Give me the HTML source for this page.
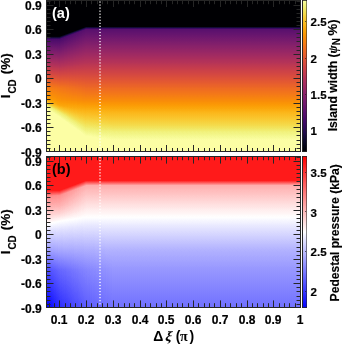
<!DOCTYPE html>
<html><head><meta charset="utf-8"><style>
html,body{margin:0;padding:0}
body{width:342px;height:344px;background:#fff;overflow:hidden;position:relative}
svg{position:absolute;left:0;top:0}
.tx{will-change:transform}
</style></head><body>
<svg width="342" height="344" style="position:absolute;left:0;top:0" shape-rendering="crispEdges"><defs><filter id="fa" x="0" y="0" width="1" height="1" filterUnits="objectBoundingBox" color-interpolation-filters="sRGB"><feComponentTransfer><feFuncR type="table" tableValues="0.0015 0.0033 0.0060 0.0096 0.0140 0.0194 0.0258 0.0334 0.0423 0.0516 0.0613 0.0714 0.0820 0.0930 0.1046 0.1167 0.1293 0.1424 0.1558 0.1696 0.1834 0.1973 0.2111 0.2248 0.2383 0.2516 0.2648 0.2778 0.2908 0.3036 0.3163 0.3289 0.3415 0.3540 0.3665 0.3790 0.3915 0.4039 0.4163 0.4288 0.4412 0.4537 0.4661 0.4786 0.4910 0.5035 0.5160 0.5284 0.5409 0.5534 0.5659 0.5783 0.5907 0.6031 0.6155 0.6278 0.6401 0.6524 0.6645 0.6766 0.6887 0.7006 0.7124 0.7241 0.7414 0.7528 0.7640 0.7751 0.7859 0.7966 0.8071 0.8173 0.8274 0.8372 0.8467 0.8560 0.8650 0.8737 0.8822 0.8903 0.8982 0.9057 0.9130 0.9199 0.9265 0.9327 0.9387 0.9443 0.9496 0.9545 0.9591 0.9634 0.9673 0.9709 0.9742 0.9771 0.9797 0.9819 0.9838 0.9853 0.9865 0.9873 0.9878 0.9879 0.9877 0.9871 0.9862 0.9849 0.9832 0.9812 0.9788 0.9761 0.9731 0.9698 0.9662 0.9625 0.9587 0.9550 0.9515 0.9487 0.9468 0.9464 0.9479 0.9517 0.9579 0.9662 0.9765 0.9884"/><feFuncG type="table" tableValues="0.0005 0.0022 0.0047 0.0077 0.0112 0.0151 0.0193 0.0237 0.0281 0.0325 0.0366 0.0403 0.0433 0.0456 0.0470 0.0476 0.0473 0.0462 0.0446 0.0425 0.0403 0.0384 0.0370 0.0364 0.0366 0.0377 0.0396 0.0424 0.0456 0.0494 0.0535 0.0578 0.0623 0.0669 0.0716 0.0763 0.0809 0.0856 0.0902 0.0948 0.0993 0.1038 0.1083 0.1128 0.1172 0.1216 0.1260 0.1303 0.1347 0.1391 0.1436 0.1480 0.1526 0.1572 0.1618 0.1666 0.1714 0.1764 0.1815 0.1868 0.1922 0.1979 0.2037 0.2097 0.2191 0.2257 0.2326 0.2397 0.2471 0.2547 0.2627 0.2710 0.2795 0.2884 0.2976 0.3070 0.3168 0.3269 0.3373 0.3480 0.3589 0.3701 0.3816 0.3934 0.4054 0.4176 0.4301 0.4428 0.4557 0.4687 0.4820 0.4955 0.5091 0.5229 0.5368 0.5508 0.5651 0.5794 0.5938 0.6084 0.6231 0.6379 0.6528 0.6677 0.6828 0.6979 0.7132 0.7284 0.7438 0.7591 0.7745 0.7900 0.8054 0.8208 0.8362 0.8515 0.8666 0.8816 0.8962 0.9105 0.9242 0.9372 0.9493 0.9606 0.9710 0.9807 0.9898 0.9984"/><feFuncB type="table" tableValues="0.0139 0.0242 0.0386 0.0551 0.0719 0.0888 0.1059 0.1234 0.1411 0.1593 0.1776 0.1964 0.2153 0.2344 0.2534 0.2723 0.2908 0.3086 0.3253 0.3409 0.3550 0.3675 0.3786 0.3881 0.3964 0.4034 0.4093 0.4144 0.4186 0.4222 0.4251 0.4275 0.4294 0.4309 0.4320 0.4327 0.4331 0.4332 0.4329 0.4324 0.4316 0.4305 0.4291 0.4275 0.4256 0.4234 0.4209 0.4181 0.4151 0.4118 0.4083 0.4044 0.4003 0.3959 0.3912 0.3863 0.3811 0.3756 0.3698 0.3638 0.3576 0.3511 0.3444 0.3374 0.3266 0.3191 0.3114 0.3035 0.2955 0.2873 0.2789 0.2704 0.2617 0.2530 0.2441 0.2351 0.2261 0.2169 0.2076 0.1983 0.1889 0.1794 0.1698 0.1601 0.1503 0.1404 0.1304 0.1204 0.1102 0.0999 0.0895 0.0791 0.0687 0.0584 0.0484 0.0391 0.0314 0.0262 0.0238 0.0242 0.0278 0.0349 0.0456 0.0583 0.0725 0.0877 0.1039 0.1208 0.1385 0.1569 0.1760 0.1960 0.2169 0.2387 0.2615 0.2855 0.3108 0.3375 0.3656 0.3953 0.4264 0.4586 0.4914 0.5242 0.5563 0.5872 0.6168 0.6449"/></feComponentTransfer></filter><filter id="fb" x="0" y="0" width="1" height="1" filterUnits="objectBoundingBox" color-interpolation-filters="sRGB"><feComponentTransfer><feFuncR type="table" tableValues="0.0000 1.0000 1.0000"/><feFuncG type="table" tableValues="0.0000 1.0000 0.0000"/><feFuncB type="table" tableValues="1.0000 1.0000 0.0000"/></feComponentTransfer></filter><linearGradient id="ga0" gradientUnits="userSpaceOnUse" x1="0" y1="0" x2="0" y2="152"><stop offset="0.0000" stop-color="#000000"/><stop offset="0.2388" stop-color="#000000"/><stop offset="0.2586" stop-color="#383838"/><stop offset="0.5789" stop-color="#b7b7b7"/><stop offset="0.6326" stop-color="#c4c4c4"/><stop offset="0.6591" stop-color="#cecece"/><stop offset="0.6759" stop-color="#e0e0e0"/><stop offset="0.6893" stop-color="#f2f2f2"/><stop offset="0.7096" stop-color="#ffffff"/></linearGradient><linearGradient id="ga1" gradientUnits="userSpaceOnUse" x1="0" y1="0" x2="0" y2="152"><stop offset="0.0000" stop-color="#000000"/><stop offset="0.2388" stop-color="#000000"/><stop offset="0.2586" stop-color="#383838"/><stop offset="0.5789" stop-color="#b7b7b7"/><stop offset="0.6345" stop-color="#c4c4c4"/><stop offset="0.6616" stop-color="#cecece"/><stop offset="0.6791" stop-color="#e0e0e0"/><stop offset="0.6930" stop-color="#f2f2f2"/><stop offset="0.7142" stop-color="#ffffff"/></linearGradient><linearGradient id="ga2" gradientUnits="userSpaceOnUse" x1="0" y1="0" x2="0" y2="152"><stop offset="0.0000" stop-color="#000000"/><stop offset="0.2388" stop-color="#000000"/><stop offset="0.2586" stop-color="#383838"/><stop offset="0.5789" stop-color="#b7b7b7"/><stop offset="0.6365" stop-color="#c4c4c4"/><stop offset="0.6640" stop-color="#cecece"/><stop offset="0.6823" stop-color="#e0e0e0"/><stop offset="0.6967" stop-color="#f2f2f2"/><stop offset="0.7189" stop-color="#ffffff"/></linearGradient><linearGradient id="ga3" gradientUnits="userSpaceOnUse" x1="0" y1="0" x2="0" y2="152"><stop offset="0.0000" stop-color="#000000"/><stop offset="0.2388" stop-color="#000000"/><stop offset="0.2586" stop-color="#383838"/><stop offset="0.5789" stop-color="#b6b6b6"/><stop offset="0.6385" stop-color="#c4c4c4"/><stop offset="0.6665" stop-color="#cecece"/><stop offset="0.6855" stop-color="#e0e0e0"/><stop offset="0.7004" stop-color="#f2f2f2"/><stop offset="0.7236" stop-color="#ffffff"/></linearGradient><linearGradient id="ga4" gradientUnits="userSpaceOnUse" x1="0" y1="0" x2="0" y2="152"><stop offset="0.0000" stop-color="#000000"/><stop offset="0.2388" stop-color="#000000"/><stop offset="0.2586" stop-color="#383838"/><stop offset="0.5789" stop-color="#b6b6b6"/><stop offset="0.6404" stop-color="#c3c3c3"/><stop offset="0.6689" stop-color="#cecece"/><stop offset="0.6887" stop-color="#e0e0e0"/><stop offset="0.7041" stop-color="#f2f2f2"/><stop offset="0.7282" stop-color="#ffffff"/></linearGradient><linearGradient id="ga5" gradientUnits="userSpaceOnUse" x1="0" y1="0" x2="0" y2="152"><stop offset="0.0000" stop-color="#000000"/><stop offset="0.2388" stop-color="#000000"/><stop offset="0.2586" stop-color="#383838"/><stop offset="0.5789" stop-color="#b6b6b6"/><stop offset="0.6424" stop-color="#c3c3c3"/><stop offset="0.6714" stop-color="#cecece"/><stop offset="0.6919" stop-color="#e0e0e0"/><stop offset="0.7078" stop-color="#f2f2f2"/><stop offset="0.7329" stop-color="#ffffff"/></linearGradient><linearGradient id="ga6" gradientUnits="userSpaceOnUse" x1="0" y1="0" x2="0" y2="152"><stop offset="0.0000" stop-color="#000000"/><stop offset="0.2388" stop-color="#000000"/><stop offset="0.2586" stop-color="#383838"/><stop offset="0.5789" stop-color="#b5b5b5"/><stop offset="0.6443" stop-color="#c3c3c3"/><stop offset="0.6739" stop-color="#cdcdcd"/><stop offset="0.6951" stop-color="#e0e0e0"/><stop offset="0.7114" stop-color="#f2f2f2"/><stop offset="0.7376" stop-color="#ffffff"/></linearGradient><linearGradient id="ga7" gradientUnits="userSpaceOnUse" x1="0" y1="0" x2="0" y2="152"><stop offset="0.0000" stop-color="#000000"/><stop offset="0.2388" stop-color="#000000"/><stop offset="0.2586" stop-color="#383838"/><stop offset="0.5789" stop-color="#b5b5b5"/><stop offset="0.6463" stop-color="#c3c3c3"/><stop offset="0.6763" stop-color="#cdcdcd"/><stop offset="0.6983" stop-color="#e0e0e0"/><stop offset="0.7151" stop-color="#f2f2f2"/><stop offset="0.7422" stop-color="#ffffff"/></linearGradient><linearGradient id="ga8" gradientUnits="userSpaceOnUse" x1="0" y1="0" x2="0" y2="152"><stop offset="0.0000" stop-color="#000000"/><stop offset="0.2388" stop-color="#000000"/><stop offset="0.2586" stop-color="#383838"/><stop offset="0.5789" stop-color="#b4b4b4"/><stop offset="0.6483" stop-color="#c3c3c3"/><stop offset="0.6788" stop-color="#cdcdcd"/><stop offset="0.7015" stop-color="#e0e0e0"/><stop offset="0.7188" stop-color="#f2f2f2"/><stop offset="0.7469" stop-color="#ffffff"/></linearGradient><linearGradient id="ga9" gradientUnits="userSpaceOnUse" x1="0" y1="0" x2="0" y2="152"><stop offset="0.0000" stop-color="#000000"/><stop offset="0.2388" stop-color="#000000"/><stop offset="0.2586" stop-color="#383838"/><stop offset="0.5789" stop-color="#b4b4b4"/><stop offset="0.6502" stop-color="#c3c3c3"/><stop offset="0.6812" stop-color="#cdcdcd"/><stop offset="0.7047" stop-color="#e0e0e0"/><stop offset="0.7225" stop-color="#f2f2f2"/><stop offset="0.7515" stop-color="#ffffff"/></linearGradient><linearGradient id="ga10" gradientUnits="userSpaceOnUse" x1="0" y1="0" x2="0" y2="152"><stop offset="0.0000" stop-color="#000000"/><stop offset="0.2388" stop-color="#000000"/><stop offset="0.2586" stop-color="#383838"/><stop offset="0.5789" stop-color="#b4b4b4"/><stop offset="0.6522" stop-color="#c2c2c2"/><stop offset="0.6837" stop-color="#cdcdcd"/><stop offset="0.7079" stop-color="#e0e0e0"/><stop offset="0.7262" stop-color="#f2f2f2"/><stop offset="0.7562" stop-color="#ffffff"/></linearGradient><linearGradient id="ga11" gradientUnits="userSpaceOnUse" x1="0" y1="0" x2="0" y2="152"><stop offset="0.0000" stop-color="#000000"/><stop offset="0.2388" stop-color="#000000"/><stop offset="0.2586" stop-color="#383838"/><stop offset="0.5789" stop-color="#b3b3b3"/><stop offset="0.6542" stop-color="#c2c2c2"/><stop offset="0.6861" stop-color="#cccccc"/><stop offset="0.7110" stop-color="#e0e0e0"/><stop offset="0.7298" stop-color="#f2f2f2"/><stop offset="0.7609" stop-color="#ffffff"/></linearGradient><linearGradient id="ga12" gradientUnits="userSpaceOnUse" x1="0" y1="0" x2="0" y2="152"><stop offset="0.0000" stop-color="#000000"/><stop offset="0.2388" stop-color="#000000"/><stop offset="0.2586" stop-color="#383838"/><stop offset="0.5789" stop-color="#b3b3b3"/><stop offset="0.6561" stop-color="#c2c2c2"/><stop offset="0.6886" stop-color="#cccccc"/><stop offset="0.7142" stop-color="#e0e0e0"/><stop offset="0.7335" stop-color="#f2f2f2"/><stop offset="0.7655" stop-color="#ffffff"/></linearGradient><linearGradient id="ga13" gradientUnits="userSpaceOnUse" x1="0" y1="0" x2="0" y2="152"><stop offset="0.0000" stop-color="#000000"/><stop offset="0.2386" stop-color="#000000"/><stop offset="0.2583" stop-color="#383838"/><stop offset="0.5789" stop-color="#b2b2b2"/><stop offset="0.6579" stop-color="#c2c2c2"/><stop offset="0.6909" stop-color="#cccccc"/><stop offset="0.7174" stop-color="#e0e0e0"/><stop offset="0.7373" stop-color="#f2f2f2"/><stop offset="0.7702" stop-color="#ffffff"/></linearGradient><linearGradient id="ga14" gradientUnits="userSpaceOnUse" x1="0" y1="0" x2="0" y2="152"><stop offset="0.0000" stop-color="#000000"/><stop offset="0.2362" stop-color="#000000"/><stop offset="0.2558" stop-color="#383838"/><stop offset="0.5789" stop-color="#b2b2b2"/><stop offset="0.6579" stop-color="#c2c2c2"/><stop offset="0.6924" stop-color="#cccccc"/><stop offset="0.7204" stop-color="#e1e1e1"/><stop offset="0.7414" stop-color="#f2f2f2"/><stop offset="0.7749" stop-color="#ffffff"/></linearGradient><linearGradient id="ga15" gradientUnits="userSpaceOnUse" x1="0" y1="0" x2="0" y2="152"><stop offset="0.0000" stop-color="#000000"/><stop offset="0.2337" stop-color="#000000"/><stop offset="0.2534" stop-color="#393939"/><stop offset="0.5789" stop-color="#b2b2b2"/><stop offset="0.6579" stop-color="#c1c1c1"/><stop offset="0.6939" stop-color="#cdcdcd"/><stop offset="0.7233" stop-color="#e1e1e1"/><stop offset="0.7456" stop-color="#f2f2f2"/><stop offset="0.7796" stop-color="#ffffff"/></linearGradient><linearGradient id="ga16" gradientUnits="userSpaceOnUse" x1="0" y1="0" x2="0" y2="152"><stop offset="0.0000" stop-color="#000000"/><stop offset="0.2313" stop-color="#000000"/><stop offset="0.2509" stop-color="#393939"/><stop offset="0.5789" stop-color="#b2b2b2"/><stop offset="0.6579" stop-color="#c1c1c1"/><stop offset="0.6954" stop-color="#cdcdcd"/><stop offset="0.7263" stop-color="#e1e1e1"/><stop offset="0.7498" stop-color="#f2f2f2"/><stop offset="0.7842" stop-color="#ffffff"/></linearGradient><linearGradient id="ga17" gradientUnits="userSpaceOnUse" x1="0" y1="0" x2="0" y2="152"><stop offset="0.0000" stop-color="#000000"/><stop offset="0.2289" stop-color="#000000"/><stop offset="0.2485" stop-color="#393939"/><stop offset="0.5789" stop-color="#b1b1b1"/><stop offset="0.6579" stop-color="#c1c1c1"/><stop offset="0.6969" stop-color="#cdcdcd"/><stop offset="0.7292" stop-color="#e1e1e1"/><stop offset="0.7540" stop-color="#f2f2f2"/><stop offset="0.7889" stop-color="#ffffff"/></linearGradient><linearGradient id="ga18" gradientUnits="userSpaceOnUse" x1="0" y1="0" x2="0" y2="152"><stop offset="0.0000" stop-color="#000000"/><stop offset="0.2265" stop-color="#000000"/><stop offset="0.2460" stop-color="#3a3a3a"/><stop offset="0.5789" stop-color="#b1b1b1"/><stop offset="0.6579" stop-color="#c1c1c1"/><stop offset="0.6983" stop-color="#cdcdcd"/><stop offset="0.7322" stop-color="#e1e1e1"/><stop offset="0.7582" stop-color="#f2f2f2"/><stop offset="0.7936" stop-color="#ffffff"/></linearGradient><linearGradient id="ga19" gradientUnits="userSpaceOnUse" x1="0" y1="0" x2="0" y2="152"><stop offset="0.0000" stop-color="#000000"/><stop offset="0.2241" stop-color="#000000"/><stop offset="0.2435" stop-color="#3a3a3a"/><stop offset="0.5789" stop-color="#b1b1b1"/><stop offset="0.6579" stop-color="#c1c1c1"/><stop offset="0.6998" stop-color="#cecece"/><stop offset="0.7351" stop-color="#e2e2e2"/><stop offset="0.7624" stop-color="#f3f3f3"/><stop offset="0.7983" stop-color="#ffffff"/></linearGradient><linearGradient id="ga20" gradientUnits="userSpaceOnUse" x1="0" y1="0" x2="0" y2="152"><stop offset="0.0000" stop-color="#000000"/><stop offset="0.2217" stop-color="#000000"/><stop offset="0.2411" stop-color="#3a3a3a"/><stop offset="0.5789" stop-color="#b0b0b0"/><stop offset="0.6579" stop-color="#c0c0c0"/><stop offset="0.7013" stop-color="#cecece"/><stop offset="0.7381" stop-color="#e2e2e2"/><stop offset="0.7666" stop-color="#f3f3f3"/><stop offset="0.8030" stop-color="#ffffff"/></linearGradient><linearGradient id="ga21" gradientUnits="userSpaceOnUse" x1="0" y1="0" x2="0" y2="152"><stop offset="0.0000" stop-color="#000000"/><stop offset="0.2193" stop-color="#000000"/><stop offset="0.2386" stop-color="#3b3b3b"/><stop offset="0.5789" stop-color="#b0b0b0"/><stop offset="0.6579" stop-color="#c0c0c0"/><stop offset="0.7028" stop-color="#cecece"/><stop offset="0.7411" stop-color="#e2e2e2"/><stop offset="0.7708" stop-color="#f3f3f3"/><stop offset="0.8077" stop-color="#ffffff"/></linearGradient><linearGradient id="ga22" gradientUnits="userSpaceOnUse" x1="0" y1="0" x2="0" y2="152"><stop offset="0.0000" stop-color="#000000"/><stop offset="0.2168" stop-color="#000000"/><stop offset="0.2361" stop-color="#3b3b3b"/><stop offset="0.5789" stop-color="#b0b0b0"/><stop offset="0.6579" stop-color="#c0c0c0"/><stop offset="0.7042" stop-color="#cfcfcf"/><stop offset="0.7440" stop-color="#e2e2e2"/><stop offset="0.7750" stop-color="#f3f3f3"/><stop offset="0.8123" stop-color="#ffffff"/></linearGradient><linearGradient id="ga23" gradientUnits="userSpaceOnUse" x1="0" y1="0" x2="0" y2="152"><stop offset="0.0000" stop-color="#000000"/><stop offset="0.2144" stop-color="#000000"/><stop offset="0.2337" stop-color="#3b3b3b"/><stop offset="0.5789" stop-color="#afafaf"/><stop offset="0.6579" stop-color="#c0c0c0"/><stop offset="0.7057" stop-color="#cfcfcf"/><stop offset="0.7470" stop-color="#e2e2e2"/><stop offset="0.7791" stop-color="#f3f3f3"/><stop offset="0.8170" stop-color="#ffffff"/></linearGradient><linearGradient id="ga24" gradientUnits="userSpaceOnUse" x1="0" y1="0" x2="0" y2="152"><stop offset="0.0000" stop-color="#000000"/><stop offset="0.2120" stop-color="#000000"/><stop offset="0.2312" stop-color="#3c3c3c"/><stop offset="0.5789" stop-color="#afafaf"/><stop offset="0.6579" stop-color="#c0c0c0"/><stop offset="0.7072" stop-color="#cfcfcf"/><stop offset="0.7499" stop-color="#e3e3e3"/><stop offset="0.7833" stop-color="#f3f3f3"/><stop offset="0.8217" stop-color="#ffffff"/></linearGradient><linearGradient id="ga25" gradientUnits="userSpaceOnUse" x1="0" y1="0" x2="0" y2="152"><stop offset="0.0000" stop-color="#000000"/><stop offset="0.2096" stop-color="#000000"/><stop offset="0.2287" stop-color="#3c3c3c"/><stop offset="0.5789" stop-color="#afafaf"/><stop offset="0.6579" stop-color="#bfbfbf"/><stop offset="0.7087" stop-color="#cfcfcf"/><stop offset="0.7529" stop-color="#e3e3e3"/><stop offset="0.7875" stop-color="#f3f3f3"/><stop offset="0.8264" stop-color="#ffffff"/></linearGradient><linearGradient id="ga26" gradientUnits="userSpaceOnUse" x1="0" y1="0" x2="0" y2="152"><stop offset="0.0000" stop-color="#000000"/><stop offset="0.2072" stop-color="#000000"/><stop offset="0.2263" stop-color="#3c3c3c"/><stop offset="0.5789" stop-color="#aeaeae"/><stop offset="0.6579" stop-color="#bfbfbf"/><stop offset="0.7102" stop-color="#d0d0d0"/><stop offset="0.7558" stop-color="#e3e3e3"/><stop offset="0.7917" stop-color="#f3f3f3"/><stop offset="0.8311" stop-color="#ffffff"/></linearGradient><linearGradient id="ga27" gradientUnits="userSpaceOnUse" x1="0" y1="0" x2="0" y2="152"><stop offset="0.0000" stop-color="#000000"/><stop offset="0.2048" stop-color="#000000"/><stop offset="0.2238" stop-color="#3d3d3d"/><stop offset="0.5789" stop-color="#aeaeae"/><stop offset="0.6579" stop-color="#bfbfbf"/><stop offset="0.7116" stop-color="#d0d0d0"/><stop offset="0.7588" stop-color="#e3e3e3"/><stop offset="0.7959" stop-color="#f3f3f3"/><stop offset="0.8357" stop-color="#ffffff"/></linearGradient><linearGradient id="ga28" gradientUnits="userSpaceOnUse" x1="0" y1="0" x2="0" y2="152"><stop offset="0.0000" stop-color="#000000"/><stop offset="0.2024" stop-color="#000000"/><stop offset="0.2213" stop-color="#3d3d3d"/><stop offset="0.5789" stop-color="#aeaeae"/><stop offset="0.6579" stop-color="#bfbfbf"/><stop offset="0.7131" stop-color="#d0d0d0"/><stop offset="0.7618" stop-color="#e3e3e3"/><stop offset="0.8001" stop-color="#f3f3f3"/><stop offset="0.8404" stop-color="#ffffff"/></linearGradient><linearGradient id="ga29" gradientUnits="userSpaceOnUse" x1="0" y1="0" x2="0" y2="152"><stop offset="0.0000" stop-color="#000000"/><stop offset="0.1999" stop-color="#000000"/><stop offset="0.2189" stop-color="#3d3d3d"/><stop offset="0.5789" stop-color="#adadad"/><stop offset="0.6579" stop-color="#bfbfbf"/><stop offset="0.7146" stop-color="#d1d1d1"/><stop offset="0.7647" stop-color="#e3e3e3"/><stop offset="0.8043" stop-color="#f3f3f3"/><stop offset="0.8451" stop-color="#ffffff"/></linearGradient><linearGradient id="ga30" gradientUnits="userSpaceOnUse" x1="0" y1="0" x2="0" y2="152"><stop offset="0.0000" stop-color="#000000"/><stop offset="0.1975" stop-color="#000000"/><stop offset="0.2164" stop-color="#3e3e3e"/><stop offset="0.5789" stop-color="#adadad"/><stop offset="0.6579" stop-color="#bfbfbf"/><stop offset="0.7161" stop-color="#d1d1d1"/><stop offset="0.7677" stop-color="#e4e4e4"/><stop offset="0.8085" stop-color="#f3f3f3"/><stop offset="0.8498" stop-color="#ffffff"/></linearGradient><linearGradient id="ga31" gradientUnits="userSpaceOnUse" x1="0" y1="0" x2="0" y2="152"><stop offset="0.0000" stop-color="#000000"/><stop offset="0.1951" stop-color="#000000"/><stop offset="0.2140" stop-color="#3e3e3e"/><stop offset="0.5789" stop-color="#adadad"/><stop offset="0.6579" stop-color="#bebebe"/><stop offset="0.7175" stop-color="#d1d1d1"/><stop offset="0.7706" stop-color="#e4e4e4"/><stop offset="0.8127" stop-color="#f3f3f3"/><stop offset="0.8545" stop-color="#ffffff"/></linearGradient><linearGradient id="ga32" gradientUnits="userSpaceOnUse" x1="0" y1="0" x2="0" y2="152"><stop offset="0.0000" stop-color="#000000"/><stop offset="0.1927" stop-color="#000000"/><stop offset="0.2115" stop-color="#3e3e3e"/><stop offset="0.5789" stop-color="#acacac"/><stop offset="0.6579" stop-color="#bebebe"/><stop offset="0.7190" stop-color="#d1d1d1"/><stop offset="0.7736" stop-color="#e4e4e4"/><stop offset="0.8168" stop-color="#f3f3f3"/><stop offset="0.8592" stop-color="#ffffff"/></linearGradient><linearGradient id="ga33" gradientUnits="userSpaceOnUse" x1="0" y1="0" x2="0" y2="152"><stop offset="0.0000" stop-color="#000000"/><stop offset="0.1903" stop-color="#000000"/><stop offset="0.2090" stop-color="#3f3f3f"/><stop offset="0.5789" stop-color="#acacac"/><stop offset="0.6579" stop-color="#bebebe"/><stop offset="0.7205" stop-color="#d2d2d2"/><stop offset="0.7765" stop-color="#e4e4e4"/><stop offset="0.8210" stop-color="#f3f3f3"/><stop offset="0.8638" stop-color="#ffffff"/></linearGradient><linearGradient id="ga34" gradientUnits="userSpaceOnUse" x1="0" y1="0" x2="0" y2="152"><stop offset="0.0000" stop-color="#000000"/><stop offset="0.1879" stop-color="#000000"/><stop offset="0.2066" stop-color="#3f3f3f"/><stop offset="0.5789" stop-color="#acacac"/><stop offset="0.6579" stop-color="#bebebe"/><stop offset="0.7220" stop-color="#d2d2d2"/><stop offset="0.7795" stop-color="#e4e4e4"/><stop offset="0.8252" stop-color="#f3f3f3"/><stop offset="0.8685" stop-color="#ffffff"/></linearGradient><linearGradient id="ga35" gradientUnits="userSpaceOnUse" x1="0" y1="0" x2="0" y2="152"><stop offset="0.0000" stop-color="#000000"/><stop offset="0.1854" stop-color="#000000"/><stop offset="0.2041" stop-color="#3f3f3f"/><stop offset="0.5789" stop-color="#acacac"/><stop offset="0.6579" stop-color="#bebebe"/><stop offset="0.7235" stop-color="#d2d2d2"/><stop offset="0.7825" stop-color="#e5e5e5"/><stop offset="0.8294" stop-color="#f3f3f3"/><stop offset="0.8732" stop-color="#ffffff"/></linearGradient><linearGradient id="ga36" gradientUnits="userSpaceOnUse" x1="0" y1="0" x2="0" y2="152"><stop offset="0.0000" stop-color="#000000"/><stop offset="0.1830" stop-color="#000000"/><stop offset="0.2016" stop-color="#404040"/><stop offset="0.5789" stop-color="#ababab"/><stop offset="0.6579" stop-color="#bdbdbd"/><stop offset="0.7249" stop-color="#d3d3d3"/><stop offset="0.7854" stop-color="#e5e5e5"/><stop offset="0.8336" stop-color="#f3f3f3"/><stop offset="0.8779" stop-color="#ffffff"/></linearGradient><linearGradient id="ga37" gradientUnits="userSpaceOnUse" x1="0" y1="0" x2="0" y2="152"><stop offset="0.0000" stop-color="#000000"/><stop offset="0.1806" stop-color="#000000"/><stop offset="0.1992" stop-color="#404040"/><stop offset="0.5789" stop-color="#ababab"/><stop offset="0.6579" stop-color="#bdbdbd"/><stop offset="0.7264" stop-color="#d3d3d3"/><stop offset="0.7884" stop-color="#e5e5e5"/><stop offset="0.8378" stop-color="#f3f3f3"/><stop offset="0.8826" stop-color="#ffffff"/></linearGradient><linearGradient id="ga38" gradientUnits="userSpaceOnUse" x1="0" y1="0" x2="0" y2="152"><stop offset="0.0000" stop-color="#000000"/><stop offset="0.1782" stop-color="#000000"/><stop offset="0.1967" stop-color="#404040"/><stop offset="0.5789" stop-color="#ababab"/><stop offset="0.6579" stop-color="#bdbdbd"/><stop offset="0.7279" stop-color="#d3d3d3"/><stop offset="0.7913" stop-color="#e5e5e5"/><stop offset="0.8420" stop-color="#f3f3f3"/><stop offset="0.8872" stop-color="#ffffff"/></linearGradient><linearGradient id="ga39" gradientUnits="userSpaceOnUse" x1="0" y1="0" x2="0" y2="152"><stop offset="0.0000" stop-color="#000000"/><stop offset="0.1758" stop-color="#000000"/><stop offset="0.1942" stop-color="#414141"/><stop offset="0.5789" stop-color="#aaaaaa"/><stop offset="0.6579" stop-color="#bdbdbd"/><stop offset="0.7294" stop-color="#d3d3d3"/><stop offset="0.7943" stop-color="#e5e5e5"/><stop offset="0.8462" stop-color="#f3f3f3"/><stop offset="0.8919" stop-color="#ffffff"/></linearGradient><linearGradient id="ga40" gradientUnits="userSpaceOnUse" x1="0" y1="0" x2="0" y2="152"><stop offset="0.0000" stop-color="#000000"/><stop offset="0.1743" stop-color="#000000"/><stop offset="0.1928" stop-color="#414141"/><stop offset="0.5789" stop-color="#aaaaaa"/><stop offset="0.6579" stop-color="#bdbdbd"/><stop offset="0.7304" stop-color="#d4d4d4"/><stop offset="0.7963" stop-color="#e6e6e6"/><stop offset="0.8490" stop-color="#f4f4f4"/><stop offset="0.8951" stop-color="#ffffff"/></linearGradient><linearGradient id="ga41" gradientUnits="userSpaceOnUse" x1="0" y1="0" x2="0" y2="152"><stop offset="0.0000" stop-color="#000000"/><stop offset="0.1743" stop-color="#000000"/><stop offset="0.1928" stop-color="#414141"/><stop offset="0.5789" stop-color="#aaaaaa"/><stop offset="0.6579" stop-color="#bdbdbd"/><stop offset="0.7306" stop-color="#d4d4d4"/><stop offset="0.7971" stop-color="#e6e6e6"/><stop offset="0.8497" stop-color="#f4f4f4"/><stop offset="0.8961" stop-color="#ffffff"/></linearGradient><linearGradient id="ga42" gradientUnits="userSpaceOnUse" x1="0" y1="0" x2="0" y2="152"><stop offset="0.0000" stop-color="#000000"/><stop offset="0.1743" stop-color="#000000"/><stop offset="0.1928" stop-color="#414141"/><stop offset="0.5789" stop-color="#aaaaaa"/><stop offset="0.6579" stop-color="#bdbdbd"/><stop offset="0.7309" stop-color="#d4d4d4"/><stop offset="0.7978" stop-color="#e6e6e6"/><stop offset="0.8505" stop-color="#f4f4f4"/><stop offset="0.8971" stop-color="#ffffff"/></linearGradient><linearGradient id="ga43" gradientUnits="userSpaceOnUse" x1="0" y1="0" x2="0" y2="152"><stop offset="0.0000" stop-color="#000000"/><stop offset="0.1743" stop-color="#000000"/><stop offset="0.1928" stop-color="#414141"/><stop offset="0.5789" stop-color="#aaaaaa"/><stop offset="0.6579" stop-color="#bdbdbd"/><stop offset="0.7311" stop-color="#d4d4d4"/><stop offset="0.7986" stop-color="#e6e6e6"/><stop offset="0.8512" stop-color="#f4f4f4"/><stop offset="0.8981" stop-color="#ffffff"/></linearGradient><linearGradient id="ga44" gradientUnits="userSpaceOnUse" x1="0" y1="0" x2="0" y2="152"><stop offset="0.0000" stop-color="#000000"/><stop offset="0.1743" stop-color="#000000"/><stop offset="0.1928" stop-color="#414141"/><stop offset="0.5789" stop-color="#aaaaaa"/><stop offset="0.6579" stop-color="#bdbdbd"/><stop offset="0.7313" stop-color="#d4d4d4"/><stop offset="0.7993" stop-color="#e6e6e6"/><stop offset="0.8519" stop-color="#f4f4f4"/><stop offset="0.8991" stop-color="#ffffff"/></linearGradient><linearGradient id="ga45" gradientUnits="userSpaceOnUse" x1="0" y1="0" x2="0" y2="152"><stop offset="0.0000" stop-color="#000000"/><stop offset="0.1743" stop-color="#000000"/><stop offset="0.1928" stop-color="#414141"/><stop offset="0.5789" stop-color="#aaaaaa"/><stop offset="0.6579" stop-color="#bdbdbd"/><stop offset="0.7316" stop-color="#d4d4d4"/><stop offset="0.8000" stop-color="#e6e6e6"/><stop offset="0.8527" stop-color="#f4f4f4"/><stop offset="0.9000" stop-color="#ffffff"/></linearGradient><linearGradient id="ga46" gradientUnits="userSpaceOnUse" x1="0" y1="0" x2="0" y2="152"><stop offset="0.0000" stop-color="#000000"/><stop offset="0.1743" stop-color="#000000"/><stop offset="0.1928" stop-color="#414141"/><stop offset="0.5789" stop-color="#aaaaaa"/><stop offset="0.6579" stop-color="#bdbdbd"/><stop offset="0.7318" stop-color="#d4d4d4"/><stop offset="0.8008" stop-color="#e6e6e6"/><stop offset="0.8534" stop-color="#f4f4f4"/><stop offset="0.9010" stop-color="#ffffff"/></linearGradient><linearGradient id="ga47" gradientUnits="userSpaceOnUse" x1="0" y1="0" x2="0" y2="152"><stop offset="0.0000" stop-color="#000000"/><stop offset="0.1743" stop-color="#000000"/><stop offset="0.1928" stop-color="#414141"/><stop offset="0.5789" stop-color="#aaaaaa"/><stop offset="0.6579" stop-color="#bdbdbd"/><stop offset="0.7321" stop-color="#d4d4d4"/><stop offset="0.8015" stop-color="#e6e6e6"/><stop offset="0.8541" stop-color="#f4f4f4"/><stop offset="0.9020" stop-color="#ffffff"/></linearGradient><linearGradient id="ga48" gradientUnits="userSpaceOnUse" x1="0" y1="0" x2="0" y2="152"><stop offset="0.0000" stop-color="#000000"/><stop offset="0.1743" stop-color="#000000"/><stop offset="0.1928" stop-color="#414141"/><stop offset="0.5789" stop-color="#aaaaaa"/><stop offset="0.6579" stop-color="#bdbdbd"/><stop offset="0.7323" stop-color="#d4d4d4"/><stop offset="0.8022" stop-color="#e6e6e6"/><stop offset="0.8549" stop-color="#f4f4f4"/><stop offset="0.9030" stop-color="#ffffff"/></linearGradient><linearGradient id="ga49" gradientUnits="userSpaceOnUse" x1="0" y1="0" x2="0" y2="152"><stop offset="0.0000" stop-color="#000000"/><stop offset="0.1743" stop-color="#000000"/><stop offset="0.1928" stop-color="#414141"/><stop offset="0.5789" stop-color="#aaaaaa"/><stop offset="0.6579" stop-color="#bdbdbd"/><stop offset="0.7326" stop-color="#d4d4d4"/><stop offset="0.8030" stop-color="#e6e6e6"/><stop offset="0.8556" stop-color="#f4f4f4"/><stop offset="0.9040" stop-color="#ffffff"/></linearGradient><linearGradient id="ga50" gradientUnits="userSpaceOnUse" x1="0" y1="0" x2="0" y2="152"><stop offset="0.0000" stop-color="#000000"/><stop offset="0.1743" stop-color="#000000"/><stop offset="0.1928" stop-color="#414141"/><stop offset="0.5789" stop-color="#aaaaaa"/><stop offset="0.6579" stop-color="#bdbdbd"/><stop offset="0.7328" stop-color="#d4d4d4"/><stop offset="0.8037" stop-color="#e6e6e6"/><stop offset="0.8563" stop-color="#f4f4f4"/><stop offset="0.9049" stop-color="#ffffff"/></linearGradient><linearGradient id="ga51" gradientUnits="userSpaceOnUse" x1="0" y1="0" x2="0" y2="152"><stop offset="0.0000" stop-color="#000000"/><stop offset="0.1743" stop-color="#000000"/><stop offset="0.1928" stop-color="#414141"/><stop offset="0.5789" stop-color="#aaaaaa"/><stop offset="0.6579" stop-color="#bdbdbd"/><stop offset="0.7331" stop-color="#d4d4d4"/><stop offset="0.8044" stop-color="#e6e6e6"/><stop offset="0.8571" stop-color="#f4f4f4"/><stop offset="0.9059" stop-color="#ffffff"/></linearGradient><linearGradient id="ga52" gradientUnits="userSpaceOnUse" x1="0" y1="0" x2="0" y2="152"><stop offset="0.0000" stop-color="#000000"/><stop offset="0.1743" stop-color="#000000"/><stop offset="0.1928" stop-color="#414141"/><stop offset="0.5789" stop-color="#aaaaaa"/><stop offset="0.6579" stop-color="#bdbdbd"/><stop offset="0.7333" stop-color="#d4d4d4"/><stop offset="0.8052" stop-color="#e6e6e6"/><stop offset="0.8578" stop-color="#f4f4f4"/><stop offset="0.9069" stop-color="#ffffff"/></linearGradient><linearGradient id="ga53" gradientUnits="userSpaceOnUse" x1="0" y1="0" x2="0" y2="152"><stop offset="0.0000" stop-color="#000000"/><stop offset="0.1743" stop-color="#000000"/><stop offset="0.1928" stop-color="#414141"/><stop offset="0.5789" stop-color="#aaaaaa"/><stop offset="0.6579" stop-color="#bdbdbd"/><stop offset="0.7336" stop-color="#d4d4d4"/><stop offset="0.8059" stop-color="#e6e6e6"/><stop offset="0.8586" stop-color="#f4f4f4"/><stop offset="0.9079" stop-color="#ffffff"/></linearGradient><linearGradient id="ga54" gradientUnits="userSpaceOnUse" x1="0" y1="0" x2="0" y2="152"><stop offset="0.0000" stop-color="#000000"/><stop offset="0.1743" stop-color="#000000"/><stop offset="0.1928" stop-color="#414141"/><stop offset="0.5789" stop-color="#aaaaaa"/><stop offset="0.6579" stop-color="#bdbdbd"/><stop offset="0.7338" stop-color="#d4d4d4"/><stop offset="0.8067" stop-color="#e6e6e6"/><stop offset="0.8593" stop-color="#f4f4f4"/><stop offset="0.9089" stop-color="#ffffff"/></linearGradient><linearGradient id="ga55" gradientUnits="userSpaceOnUse" x1="0" y1="0" x2="0" y2="152"><stop offset="0.0000" stop-color="#000000"/><stop offset="0.1743" stop-color="#000000"/><stop offset="0.1928" stop-color="#414141"/><stop offset="0.5789" stop-color="#aaaaaa"/><stop offset="0.6579" stop-color="#bdbdbd"/><stop offset="0.7340" stop-color="#d4d4d4"/><stop offset="0.8074" stop-color="#e6e6e6"/><stop offset="0.8600" stop-color="#f4f4f4"/><stop offset="0.9099" stop-color="#ffffff"/></linearGradient><linearGradient id="ga56" gradientUnits="userSpaceOnUse" x1="0" y1="0" x2="0" y2="152"><stop offset="0.0000" stop-color="#000000"/><stop offset="0.1743" stop-color="#000000"/><stop offset="0.1928" stop-color="#414141"/><stop offset="0.5789" stop-color="#aaaaaa"/><stop offset="0.6579" stop-color="#bdbdbd"/><stop offset="0.7343" stop-color="#d4d4d4"/><stop offset="0.8081" stop-color="#e6e6e6"/><stop offset="0.8608" stop-color="#f4f4f4"/><stop offset="0.9108" stop-color="#ffffff"/></linearGradient><linearGradient id="ga57" gradientUnits="userSpaceOnUse" x1="0" y1="0" x2="0" y2="152"><stop offset="0.0000" stop-color="#000000"/><stop offset="0.1743" stop-color="#000000"/><stop offset="0.1928" stop-color="#414141"/><stop offset="0.5789" stop-color="#aaaaaa"/><stop offset="0.6579" stop-color="#bdbdbd"/><stop offset="0.7345" stop-color="#d4d4d4"/><stop offset="0.8089" stop-color="#e6e6e6"/><stop offset="0.8615" stop-color="#f4f4f4"/><stop offset="0.9118" stop-color="#ffffff"/></linearGradient><linearGradient id="ga58" gradientUnits="userSpaceOnUse" x1="0" y1="0" x2="0" y2="152"><stop offset="0.0000" stop-color="#000000"/><stop offset="0.1743" stop-color="#000000"/><stop offset="0.1928" stop-color="#414141"/><stop offset="0.5789" stop-color="#aaaaaa"/><stop offset="0.6579" stop-color="#bdbdbd"/><stop offset="0.7348" stop-color="#d4d4d4"/><stop offset="0.8096" stop-color="#e6e6e6"/><stop offset="0.8622" stop-color="#f4f4f4"/><stop offset="0.9128" stop-color="#ffffff"/></linearGradient><linearGradient id="ga59" gradientUnits="userSpaceOnUse" x1="0" y1="0" x2="0" y2="152"><stop offset="0.0000" stop-color="#000000"/><stop offset="0.1743" stop-color="#000000"/><stop offset="0.1928" stop-color="#414141"/><stop offset="0.5789" stop-color="#aaaaaa"/><stop offset="0.6579" stop-color="#bdbdbd"/><stop offset="0.7350" stop-color="#d4d4d4"/><stop offset="0.8103" stop-color="#e6e6e6"/><stop offset="0.8630" stop-color="#f4f4f4"/><stop offset="0.9138" stop-color="#ffffff"/></linearGradient><linearGradient id="ga60" gradientUnits="userSpaceOnUse" x1="0" y1="0" x2="0" y2="152"><stop offset="0.0000" stop-color="#000000"/><stop offset="0.1743" stop-color="#000000"/><stop offset="0.1928" stop-color="#414141"/><stop offset="0.5789" stop-color="#aaaaaa"/><stop offset="0.6579" stop-color="#bdbdbd"/><stop offset="0.7353" stop-color="#d4d4d4"/><stop offset="0.8111" stop-color="#e6e6e6"/><stop offset="0.8637" stop-color="#f4f4f4"/><stop offset="0.9148" stop-color="#ffffff"/></linearGradient><linearGradient id="ga61" gradientUnits="userSpaceOnUse" x1="0" y1="0" x2="0" y2="152"><stop offset="0.0000" stop-color="#000000"/><stop offset="0.1743" stop-color="#000000"/><stop offset="0.1928" stop-color="#414141"/><stop offset="0.5789" stop-color="#aaaaaa"/><stop offset="0.6579" stop-color="#bdbdbd"/><stop offset="0.7355" stop-color="#d4d4d4"/><stop offset="0.8118" stop-color="#e6e6e6"/><stop offset="0.8644" stop-color="#f5f5f5"/><stop offset="0.9158" stop-color="#ffffff"/></linearGradient><linearGradient id="ga62" gradientUnits="userSpaceOnUse" x1="0" y1="0" x2="0" y2="152"><stop offset="0.0000" stop-color="#000000"/><stop offset="0.1743" stop-color="#000000"/><stop offset="0.1928" stop-color="#414141"/><stop offset="0.5789" stop-color="#aaaaaa"/><stop offset="0.6579" stop-color="#bdbdbd"/><stop offset="0.7358" stop-color="#d4d4d4"/><stop offset="0.8125" stop-color="#e6e6e6"/><stop offset="0.8652" stop-color="#f5f5f5"/><stop offset="0.9167" stop-color="#ffffff"/></linearGradient><linearGradient id="ga63" gradientUnits="userSpaceOnUse" x1="0" y1="0" x2="0" y2="152"><stop offset="0.0000" stop-color="#000000"/><stop offset="0.1743" stop-color="#000000"/><stop offset="0.1928" stop-color="#414141"/><stop offset="0.5789" stop-color="#aaaaaa"/><stop offset="0.6579" stop-color="#bdbdbd"/><stop offset="0.7360" stop-color="#d4d4d4"/><stop offset="0.8133" stop-color="#e6e6e6"/><stop offset="0.8659" stop-color="#f5f5f5"/><stop offset="0.9177" stop-color="#ffffff"/></linearGradient><linearGradient id="ga64" gradientUnits="userSpaceOnUse" x1="0" y1="0" x2="0" y2="152"><stop offset="0.0000" stop-color="#000000"/><stop offset="0.1743" stop-color="#000000"/><stop offset="0.1928" stop-color="#414141"/><stop offset="0.5789" stop-color="#aaaaaa"/><stop offset="0.6579" stop-color="#bdbdbd"/><stop offset="0.7363" stop-color="#d4d4d4"/><stop offset="0.8140" stop-color="#e6e6e6"/><stop offset="0.8667" stop-color="#f5f5f5"/><stop offset="0.9187" stop-color="#ffffff"/></linearGradient><linearGradient id="ga65" gradientUnits="userSpaceOnUse" x1="0" y1="0" x2="0" y2="152"><stop offset="0.0000" stop-color="#000000"/><stop offset="0.1743" stop-color="#000000"/><stop offset="0.1928" stop-color="#414141"/><stop offset="0.5789" stop-color="#aaaaaa"/><stop offset="0.6579" stop-color="#bdbdbd"/><stop offset="0.7365" stop-color="#d4d4d4"/><stop offset="0.8148" stop-color="#e6e6e6"/><stop offset="0.8674" stop-color="#f5f5f5"/><stop offset="0.9197" stop-color="#ffffff"/></linearGradient><linearGradient id="ga66" gradientUnits="userSpaceOnUse" x1="0" y1="0" x2="0" y2="152"><stop offset="0.0000" stop-color="#000000"/><stop offset="0.1743" stop-color="#000000"/><stop offset="0.1928" stop-color="#414141"/><stop offset="0.5789" stop-color="#aaaaaa"/><stop offset="0.6579" stop-color="#bdbdbd"/><stop offset="0.7367" stop-color="#d4d4d4"/><stop offset="0.8155" stop-color="#e6e6e6"/><stop offset="0.8681" stop-color="#f5f5f5"/><stop offset="0.9207" stop-color="#ffffff"/></linearGradient><linearGradient id="ga67" gradientUnits="userSpaceOnUse" x1="0" y1="0" x2="0" y2="152"><stop offset="0.0000" stop-color="#000000"/><stop offset="0.1743" stop-color="#000000"/><stop offset="0.1928" stop-color="#414141"/><stop offset="0.5789" stop-color="#aaaaaa"/><stop offset="0.6579" stop-color="#bdbdbd"/><stop offset="0.7368" stop-color="#d4d4d4"/><stop offset="0.8158" stop-color="#e6e6e6"/><stop offset="0.8684" stop-color="#f5f5f5"/><stop offset="0.9211" stop-color="#ffffff"/></linearGradient><linearGradient id="gb0" gradientUnits="userSpaceOnUse" x1="0" y1="156" x2="0" y2="308"><stop offset="0.0000" stop-color="#f2f2f2"/><stop offset="0.2270" stop-color="#f2f2f2"/><stop offset="0.2630" stop-color="#bbbbbb"/><stop offset="0.2895" stop-color="#b2b2b2"/><stop offset="0.3289" stop-color="#a8a8a8"/><stop offset="0.3879" stop-color="#959595"/><stop offset="0.4466" stop-color="#808080"/><stop offset="0.4995" stop-color="#6e6e6e"/><stop offset="0.6184" stop-color="#4f4f4f"/><stop offset="0.7500" stop-color="#262626"/><stop offset="0.9868" stop-color="#010101"/></linearGradient><linearGradient id="gb1" gradientUnits="userSpaceOnUse" x1="0" y1="156" x2="0" y2="308"><stop offset="0.0000" stop-color="#f2f2f2"/><stop offset="0.2270" stop-color="#f2f2f2"/><stop offset="0.2628" stop-color="#bbbbbb"/><stop offset="0.2895" stop-color="#b2b2b2"/><stop offset="0.3289" stop-color="#a8a8a8"/><stop offset="0.3874" stop-color="#959595"/><stop offset="0.4452" stop-color="#808080"/><stop offset="0.4985" stop-color="#6e6e6e"/><stop offset="0.6184" stop-color="#505050"/><stop offset="0.7500" stop-color="#272727"/><stop offset="0.9868" stop-color="#030303"/></linearGradient><linearGradient id="gb2" gradientUnits="userSpaceOnUse" x1="0" y1="156" x2="0" y2="308"><stop offset="0.0000" stop-color="#f2f2f2"/><stop offset="0.2270" stop-color="#f2f2f2"/><stop offset="0.2625" stop-color="#bbbbbb"/><stop offset="0.2895" stop-color="#b2b2b2"/><stop offset="0.3289" stop-color="#a8a8a8"/><stop offset="0.3869" stop-color="#959595"/><stop offset="0.4437" stop-color="#808080"/><stop offset="0.4975" stop-color="#6e6e6e"/><stop offset="0.6184" stop-color="#505050"/><stop offset="0.7500" stop-color="#282828"/><stop offset="0.9868" stop-color="#040404"/></linearGradient><linearGradient id="gb3" gradientUnits="userSpaceOnUse" x1="0" y1="156" x2="0" y2="308"><stop offset="0.0000" stop-color="#f2f2f2"/><stop offset="0.2270" stop-color="#f2f2f2"/><stop offset="0.2623" stop-color="#bababa"/><stop offset="0.2895" stop-color="#b2b2b2"/><stop offset="0.3289" stop-color="#a8a8a8"/><stop offset="0.3864" stop-color="#959595"/><stop offset="0.4422" stop-color="#808080"/><stop offset="0.4966" stop-color="#6e6e6e"/><stop offset="0.6184" stop-color="#505050"/><stop offset="0.7500" stop-color="#292929"/><stop offset="0.9868" stop-color="#060606"/></linearGradient><linearGradient id="gb4" gradientUnits="userSpaceOnUse" x1="0" y1="156" x2="0" y2="308"><stop offset="0.0000" stop-color="#f2f2f2"/><stop offset="0.2270" stop-color="#f2f2f2"/><stop offset="0.2621" stop-color="#bababa"/><stop offset="0.2895" stop-color="#b2b2b2"/><stop offset="0.3289" stop-color="#a7a7a7"/><stop offset="0.3859" stop-color="#959595"/><stop offset="0.4407" stop-color="#808080"/><stop offset="0.4956" stop-color="#6f6f6f"/><stop offset="0.6184" stop-color="#515151"/><stop offset="0.7500" stop-color="#2a2a2a"/><stop offset="0.9868" stop-color="#080808"/></linearGradient><linearGradient id="gb5" gradientUnits="userSpaceOnUse" x1="0" y1="156" x2="0" y2="308"><stop offset="0.0000" stop-color="#f2f2f2"/><stop offset="0.2270" stop-color="#f2f2f2"/><stop offset="0.2618" stop-color="#bababa"/><stop offset="0.2895" stop-color="#b1b1b1"/><stop offset="0.3289" stop-color="#a7a7a7"/><stop offset="0.3855" stop-color="#959595"/><stop offset="0.4393" stop-color="#808080"/><stop offset="0.4946" stop-color="#6f6f6f"/><stop offset="0.6184" stop-color="#515151"/><stop offset="0.7500" stop-color="#2b2b2b"/><stop offset="0.9868" stop-color="#090909"/></linearGradient><linearGradient id="gb6" gradientUnits="userSpaceOnUse" x1="0" y1="156" x2="0" y2="308"><stop offset="0.0000" stop-color="#f2f2f2"/><stop offset="0.2270" stop-color="#f2f2f2"/><stop offset="0.2616" stop-color="#bababa"/><stop offset="0.2895" stop-color="#b1b1b1"/><stop offset="0.3289" stop-color="#a7a7a7"/><stop offset="0.3850" stop-color="#959595"/><stop offset="0.4378" stop-color="#808080"/><stop offset="0.4936" stop-color="#6f6f6f"/><stop offset="0.6184" stop-color="#525252"/><stop offset="0.7500" stop-color="#2c2c2c"/><stop offset="0.9868" stop-color="#0b0b0b"/></linearGradient><linearGradient id="gb7" gradientUnits="userSpaceOnUse" x1="0" y1="156" x2="0" y2="308"><stop offset="0.0000" stop-color="#f2f2f2"/><stop offset="0.2270" stop-color="#f2f2f2"/><stop offset="0.2613" stop-color="#b9b9b9"/><stop offset="0.2895" stop-color="#b1b1b1"/><stop offset="0.3289" stop-color="#a7a7a7"/><stop offset="0.3845" stop-color="#949494"/><stop offset="0.4363" stop-color="#808080"/><stop offset="0.4926" stop-color="#6f6f6f"/><stop offset="0.6184" stop-color="#525252"/><stop offset="0.7500" stop-color="#2d2d2d"/><stop offset="0.9868" stop-color="#0d0d0d"/></linearGradient><linearGradient id="gb8" gradientUnits="userSpaceOnUse" x1="0" y1="156" x2="0" y2="308"><stop offset="0.0000" stop-color="#f2f2f2"/><stop offset="0.2270" stop-color="#f2f2f2"/><stop offset="0.2611" stop-color="#b9b9b9"/><stop offset="0.2895" stop-color="#b1b1b1"/><stop offset="0.3289" stop-color="#a7a7a7"/><stop offset="0.3840" stop-color="#949494"/><stop offset="0.4348" stop-color="#808080"/><stop offset="0.4917" stop-color="#6f6f6f"/><stop offset="0.6184" stop-color="#525252"/><stop offset="0.7500" stop-color="#2e2e2e"/><stop offset="0.9868" stop-color="#0f0f0f"/></linearGradient><linearGradient id="gb9" gradientUnits="userSpaceOnUse" x1="0" y1="156" x2="0" y2="308"><stop offset="0.0000" stop-color="#f2f2f2"/><stop offset="0.2270" stop-color="#f2f2f2"/><stop offset="0.2608" stop-color="#b9b9b9"/><stop offset="0.2895" stop-color="#b1b1b1"/><stop offset="0.3289" stop-color="#a6a6a6"/><stop offset="0.3835" stop-color="#949494"/><stop offset="0.4334" stop-color="#808080"/><stop offset="0.4907" stop-color="#6f6f6f"/><stop offset="0.6184" stop-color="#535353"/><stop offset="0.7500" stop-color="#2f2f2f"/><stop offset="0.9868" stop-color="#101010"/></linearGradient><linearGradient id="gb10" gradientUnits="userSpaceOnUse" x1="0" y1="156" x2="0" y2="308"><stop offset="0.0000" stop-color="#f2f2f2"/><stop offset="0.2270" stop-color="#f2f2f2"/><stop offset="0.2606" stop-color="#b8b8b8"/><stop offset="0.2895" stop-color="#b1b1b1"/><stop offset="0.3289" stop-color="#a6a6a6"/><stop offset="0.3830" stop-color="#949494"/><stop offset="0.4319" stop-color="#808080"/><stop offset="0.4897" stop-color="#707070"/><stop offset="0.6184" stop-color="#535353"/><stop offset="0.7500" stop-color="#303030"/><stop offset="0.9868" stop-color="#121212"/></linearGradient><linearGradient id="gb11" gradientUnits="userSpaceOnUse" x1="0" y1="156" x2="0" y2="308"><stop offset="0.0000" stop-color="#f2f2f2"/><stop offset="0.2270" stop-color="#f2f2f2"/><stop offset="0.2603" stop-color="#b8b8b8"/><stop offset="0.2895" stop-color="#b0b0b0"/><stop offset="0.3289" stop-color="#a6a6a6"/><stop offset="0.3825" stop-color="#949494"/><stop offset="0.4304" stop-color="#808080"/><stop offset="0.4887" stop-color="#707070"/><stop offset="0.6184" stop-color="#535353"/><stop offset="0.7500" stop-color="#313131"/><stop offset="0.9868" stop-color="#141414"/></linearGradient><linearGradient id="gb12" gradientUnits="userSpaceOnUse" x1="0" y1="156" x2="0" y2="308"><stop offset="0.0000" stop-color="#f2f2f2"/><stop offset="0.2270" stop-color="#f2f2f2"/><stop offset="0.2601" stop-color="#b8b8b8"/><stop offset="0.2895" stop-color="#b0b0b0"/><stop offset="0.3289" stop-color="#a6a6a6"/><stop offset="0.3820" stop-color="#949494"/><stop offset="0.4290" stop-color="#808080"/><stop offset="0.4877" stop-color="#707070"/><stop offset="0.6184" stop-color="#545454"/><stop offset="0.7500" stop-color="#323232"/><stop offset="0.9868" stop-color="#151515"/></linearGradient><linearGradient id="gb13" gradientUnits="userSpaceOnUse" x1="0" y1="156" x2="0" y2="308"><stop offset="0.0000" stop-color="#f2f2f2"/><stop offset="0.2267" stop-color="#f2f2f2"/><stop offset="0.2596" stop-color="#b8b8b8"/><stop offset="0.2892" stop-color="#b0b0b0"/><stop offset="0.3288" stop-color="#a6a6a6"/><stop offset="0.3815" stop-color="#949494"/><stop offset="0.4275" stop-color="#808080"/><stop offset="0.4867" stop-color="#707070"/><stop offset="0.6184" stop-color="#545454"/><stop offset="0.7500" stop-color="#333333"/><stop offset="0.9868" stop-color="#171717"/></linearGradient><linearGradient id="gb14" gradientUnits="userSpaceOnUse" x1="0" y1="156" x2="0" y2="308"><stop offset="0.0000" stop-color="#f2f2f2"/><stop offset="0.2243" stop-color="#f2f2f2"/><stop offset="0.2572" stop-color="#b7b7b7"/><stop offset="0.2868" stop-color="#afafaf"/><stop offset="0.3273" stop-color="#a5a5a5"/><stop offset="0.3805" stop-color="#939393"/><stop offset="0.4265" stop-color="#808080"/><stop offset="0.4858" stop-color="#707070"/><stop offset="0.6184" stop-color="#545454"/><stop offset="0.7500" stop-color="#343434"/><stop offset="0.9868" stop-color="#181818"/></linearGradient><linearGradient id="gb15" gradientUnits="userSpaceOnUse" x1="0" y1="156" x2="0" y2="308"><stop offset="0.0000" stop-color="#f2f2f2"/><stop offset="0.2218" stop-color="#f2f2f2"/><stop offset="0.2547" stop-color="#b6b6b6"/><stop offset="0.2843" stop-color="#afafaf"/><stop offset="0.3258" stop-color="#a4a4a4"/><stop offset="0.3795" stop-color="#939393"/><stop offset="0.4256" stop-color="#808080"/><stop offset="0.4848" stop-color="#707070"/><stop offset="0.6184" stop-color="#545454"/><stop offset="0.7500" stop-color="#343434"/><stop offset="0.9868" stop-color="#191919"/></linearGradient><linearGradient id="gb16" gradientUnits="userSpaceOnUse" x1="0" y1="156" x2="0" y2="308"><stop offset="0.0000" stop-color="#f2f2f2"/><stop offset="0.2193" stop-color="#f2f2f2"/><stop offset="0.2522" stop-color="#b6b6b6"/><stop offset="0.2818" stop-color="#aeaeae"/><stop offset="0.3244" stop-color="#a4a4a4"/><stop offset="0.3785" stop-color="#939393"/><stop offset="0.4246" stop-color="#808080"/><stop offset="0.4838" stop-color="#707070"/><stop offset="0.6184" stop-color="#545454"/><stop offset="0.7500" stop-color="#353535"/><stop offset="0.9868" stop-color="#1a1a1a"/></linearGradient><linearGradient id="gb17" gradientUnits="userSpaceOnUse" x1="0" y1="156" x2="0" y2="308"><stop offset="0.0000" stop-color="#f2f2f2"/><stop offset="0.2169" stop-color="#f2f2f2"/><stop offset="0.2498" stop-color="#b5b5b5"/><stop offset="0.2794" stop-color="#aeaeae"/><stop offset="0.3229" stop-color="#a3a3a3"/><stop offset="0.3775" stop-color="#929292"/><stop offset="0.4236" stop-color="#808080"/><stop offset="0.4828" stop-color="#717171"/><stop offset="0.6184" stop-color="#555555"/><stop offset="0.7500" stop-color="#353535"/><stop offset="0.9868" stop-color="#1b1b1b"/></linearGradient><linearGradient id="gb18" gradientUnits="userSpaceOnUse" x1="0" y1="156" x2="0" y2="308"><stop offset="0.0000" stop-color="#f2f2f2"/><stop offset="0.2144" stop-color="#f2f2f2"/><stop offset="0.2473" stop-color="#b5b5b5"/><stop offset="0.2769" stop-color="#adadad"/><stop offset="0.3214" stop-color="#a3a3a3"/><stop offset="0.3766" stop-color="#929292"/><stop offset="0.4226" stop-color="#808080"/><stop offset="0.4818" stop-color="#717171"/><stop offset="0.6184" stop-color="#555555"/><stop offset="0.7500" stop-color="#363636"/><stop offset="0.9868" stop-color="#1c1c1c"/></linearGradient><linearGradient id="gb19" gradientUnits="userSpaceOnUse" x1="0" y1="156" x2="0" y2="308"><stop offset="0.0000" stop-color="#f2f2f2"/><stop offset="0.2119" stop-color="#f2f2f2"/><stop offset="0.2448" stop-color="#b4b4b4"/><stop offset="0.2744" stop-color="#adadad"/><stop offset="0.3199" stop-color="#a2a2a2"/><stop offset="0.3756" stop-color="#919191"/><stop offset="0.4216" stop-color="#808080"/><stop offset="0.4808" stop-color="#717171"/><stop offset="0.6184" stop-color="#555555"/><stop offset="0.7500" stop-color="#363636"/><stop offset="0.9868" stop-color="#1c1c1c"/></linearGradient><linearGradient id="gb20" gradientUnits="userSpaceOnUse" x1="0" y1="156" x2="0" y2="308"><stop offset="0.0000" stop-color="#f2f2f2"/><stop offset="0.2095" stop-color="#f2f2f2"/><stop offset="0.2424" stop-color="#b4b4b4"/><stop offset="0.2720" stop-color="#acacac"/><stop offset="0.3185" stop-color="#a1a1a1"/><stop offset="0.3746" stop-color="#919191"/><stop offset="0.4206" stop-color="#808080"/><stop offset="0.4798" stop-color="#717171"/><stop offset="0.6184" stop-color="#555555"/><stop offset="0.7500" stop-color="#373737"/><stop offset="0.9868" stop-color="#1d1d1d"/></linearGradient><linearGradient id="gb21" gradientUnits="userSpaceOnUse" x1="0" y1="156" x2="0" y2="308"><stop offset="0.0000" stop-color="#f2f2f2"/><stop offset="0.2070" stop-color="#f2f2f2"/><stop offset="0.2399" stop-color="#b3b3b3"/><stop offset="0.2695" stop-color="#acacac"/><stop offset="0.3170" stop-color="#a1a1a1"/><stop offset="0.3736" stop-color="#909090"/><stop offset="0.4196" stop-color="#808080"/><stop offset="0.4789" stop-color="#717171"/><stop offset="0.6184" stop-color="#555555"/><stop offset="0.7500" stop-color="#383838"/><stop offset="0.9868" stop-color="#1e1e1e"/></linearGradient><linearGradient id="gb22" gradientUnits="userSpaceOnUse" x1="0" y1="156" x2="0" y2="308"><stop offset="0.0000" stop-color="#f2f2f2"/><stop offset="0.2046" stop-color="#f2f2f2"/><stop offset="0.2374" stop-color="#b2b2b2"/><stop offset="0.2671" stop-color="#ababab"/><stop offset="0.3155" stop-color="#a0a0a0"/><stop offset="0.3726" stop-color="#909090"/><stop offset="0.4187" stop-color="#808080"/><stop offset="0.4779" stop-color="#717171"/><stop offset="0.6184" stop-color="#555555"/><stop offset="0.7500" stop-color="#383838"/><stop offset="0.9868" stop-color="#1f1f1f"/></linearGradient><linearGradient id="gb23" gradientUnits="userSpaceOnUse" x1="0" y1="156" x2="0" y2="308"><stop offset="0.0000" stop-color="#f2f2f2"/><stop offset="0.2021" stop-color="#f2f2f2"/><stop offset="0.2350" stop-color="#b2b2b2"/><stop offset="0.2646" stop-color="#ababab"/><stop offset="0.3140" stop-color="#9f9f9f"/><stop offset="0.3716" stop-color="#909090"/><stop offset="0.4177" stop-color="#808080"/><stop offset="0.4769" stop-color="#717171"/><stop offset="0.6184" stop-color="#555555"/><stop offset="0.7500" stop-color="#393939"/><stop offset="0.9868" stop-color="#202020"/></linearGradient><linearGradient id="gb24" gradientUnits="userSpaceOnUse" x1="0" y1="156" x2="0" y2="308"><stop offset="0.0000" stop-color="#f2f2f2"/><stop offset="0.1996" stop-color="#f2f2f2"/><stop offset="0.2325" stop-color="#b1b1b1"/><stop offset="0.2621" stop-color="#aaaaaa"/><stop offset="0.3125" stop-color="#9f9f9f"/><stop offset="0.3706" stop-color="#8f8f8f"/><stop offset="0.4167" stop-color="#808080"/><stop offset="0.4759" stop-color="#717171"/><stop offset="0.6184" stop-color="#555555"/><stop offset="0.7500" stop-color="#393939"/><stop offset="0.9868" stop-color="#212121"/></linearGradient><linearGradient id="gb25" gradientUnits="userSpaceOnUse" x1="0" y1="156" x2="0" y2="308"><stop offset="0.0000" stop-color="#f2f2f2"/><stop offset="0.1972" stop-color="#f2f2f2"/><stop offset="0.2301" stop-color="#b1b1b1"/><stop offset="0.2597" stop-color="#aaaaaa"/><stop offset="0.3111" stop-color="#9e9e9e"/><stop offset="0.3697" stop-color="#8f8f8f"/><stop offset="0.4157" stop-color="#808080"/><stop offset="0.4749" stop-color="#717171"/><stop offset="0.6184" stop-color="#555555"/><stop offset="0.7500" stop-color="#3a3a3a"/><stop offset="0.9868" stop-color="#222222"/></linearGradient><linearGradient id="gb26" gradientUnits="userSpaceOnUse" x1="0" y1="156" x2="0" y2="308"><stop offset="0.0000" stop-color="#f2f2f2"/><stop offset="0.1947" stop-color="#f2f2f2"/><stop offset="0.2276" stop-color="#b0b0b0"/><stop offset="0.2572" stop-color="#a9a9a9"/><stop offset="0.3096" stop-color="#9e9e9e"/><stop offset="0.3687" stop-color="#8e8e8e"/><stop offset="0.4147" stop-color="#808080"/><stop offset="0.4739" stop-color="#717171"/><stop offset="0.6184" stop-color="#555555"/><stop offset="0.7500" stop-color="#3b3b3b"/><stop offset="0.9868" stop-color="#232323"/></linearGradient><linearGradient id="gb27" gradientUnits="userSpaceOnUse" x1="0" y1="156" x2="0" y2="308"><stop offset="0.0000" stop-color="#f2f2f2"/><stop offset="0.1922" stop-color="#f2f2f2"/><stop offset="0.2251" stop-color="#b0b0b0"/><stop offset="0.2547" stop-color="#a9a9a9"/><stop offset="0.3081" stop-color="#9d9d9d"/><stop offset="0.3677" stop-color="#8e8e8e"/><stop offset="0.4137" stop-color="#808080"/><stop offset="0.4729" stop-color="#727272"/><stop offset="0.6184" stop-color="#555555"/><stop offset="0.7500" stop-color="#3b3b3b"/><stop offset="0.9868" stop-color="#242424"/></linearGradient><linearGradient id="gb28" gradientUnits="userSpaceOnUse" x1="0" y1="156" x2="0" y2="308"><stop offset="0.0000" stop-color="#f2f2f2"/><stop offset="0.1898" stop-color="#f2f2f2"/><stop offset="0.2227" stop-color="#afafaf"/><stop offset="0.2523" stop-color="#a8a8a8"/><stop offset="0.3066" stop-color="#9c9c9c"/><stop offset="0.3667" stop-color="#8d8d8d"/><stop offset="0.4127" stop-color="#808080"/><stop offset="0.4720" stop-color="#727272"/><stop offset="0.6184" stop-color="#565656"/><stop offset="0.7500" stop-color="#3c3c3c"/><stop offset="0.9868" stop-color="#252525"/></linearGradient><linearGradient id="gb29" gradientUnits="userSpaceOnUse" x1="0" y1="156" x2="0" y2="308"><stop offset="0.0000" stop-color="#f2f2f2"/><stop offset="0.1873" stop-color="#f2f2f2"/><stop offset="0.2202" stop-color="#aeaeae"/><stop offset="0.2498" stop-color="#a7a7a7"/><stop offset="0.3051" stop-color="#9c9c9c"/><stop offset="0.3657" stop-color="#8d8d8d"/><stop offset="0.4118" stop-color="#808080"/><stop offset="0.4710" stop-color="#727272"/><stop offset="0.6184" stop-color="#565656"/><stop offset="0.7500" stop-color="#3c3c3c"/><stop offset="0.9868" stop-color="#262626"/></linearGradient><linearGradient id="gb30" gradientUnits="userSpaceOnUse" x1="0" y1="156" x2="0" y2="308"><stop offset="0.0000" stop-color="#f2f2f2"/><stop offset="0.1848" stop-color="#f2f2f2"/><stop offset="0.2177" stop-color="#aeaeae"/><stop offset="0.2473" stop-color="#a7a7a7"/><stop offset="0.3037" stop-color="#9b9b9b"/><stop offset="0.3647" stop-color="#8d8d8d"/><stop offset="0.4108" stop-color="#808080"/><stop offset="0.4700" stop-color="#727272"/><stop offset="0.6184" stop-color="#565656"/><stop offset="0.7500" stop-color="#3d3d3d"/><stop offset="0.9868" stop-color="#262626"/></linearGradient><linearGradient id="gb31" gradientUnits="userSpaceOnUse" x1="0" y1="156" x2="0" y2="308"><stop offset="0.0000" stop-color="#f2f2f2"/><stop offset="0.1824" stop-color="#f2f2f2"/><stop offset="0.2153" stop-color="#adadad"/><stop offset="0.2449" stop-color="#a6a6a6"/><stop offset="0.3022" stop-color="#9b9b9b"/><stop offset="0.3637" stop-color="#8c8c8c"/><stop offset="0.4098" stop-color="#808080"/><stop offset="0.4690" stop-color="#727272"/><stop offset="0.6184" stop-color="#565656"/><stop offset="0.7500" stop-color="#3d3d3d"/><stop offset="0.9868" stop-color="#272727"/></linearGradient><linearGradient id="gb32" gradientUnits="userSpaceOnUse" x1="0" y1="156" x2="0" y2="308"><stop offset="0.0000" stop-color="#f2f2f2"/><stop offset="0.1799" stop-color="#f2f2f2"/><stop offset="0.2128" stop-color="#adadad"/><stop offset="0.2424" stop-color="#a6a6a6"/><stop offset="0.3007" stop-color="#9a9a9a"/><stop offset="0.3628" stop-color="#8c8c8c"/><stop offset="0.4088" stop-color="#808080"/><stop offset="0.4680" stop-color="#727272"/><stop offset="0.6184" stop-color="#565656"/><stop offset="0.7500" stop-color="#3e3e3e"/><stop offset="0.9868" stop-color="#282828"/></linearGradient><linearGradient id="gb33" gradientUnits="userSpaceOnUse" x1="0" y1="156" x2="0" y2="308"><stop offset="0.0000" stop-color="#f2f2f2"/><stop offset="0.1774" stop-color="#f2f2f2"/><stop offset="0.2103" stop-color="#acacac"/><stop offset="0.2399" stop-color="#a5a5a5"/><stop offset="0.2992" stop-color="#999999"/><stop offset="0.3618" stop-color="#8b8b8b"/><stop offset="0.4078" stop-color="#808080"/><stop offset="0.4670" stop-color="#727272"/><stop offset="0.6184" stop-color="#565656"/><stop offset="0.7500" stop-color="#3f3f3f"/><stop offset="0.9868" stop-color="#292929"/></linearGradient><linearGradient id="gb34" gradientUnits="userSpaceOnUse" x1="0" y1="156" x2="0" y2="308"><stop offset="0.0000" stop-color="#f2f2f2"/><stop offset="0.1750" stop-color="#f2f2f2"/><stop offset="0.2079" stop-color="#acacac"/><stop offset="0.2375" stop-color="#a5a5a5"/><stop offset="0.2978" stop-color="#999999"/><stop offset="0.3608" stop-color="#8b8b8b"/><stop offset="0.4068" stop-color="#808080"/><stop offset="0.4660" stop-color="#727272"/><stop offset="0.6184" stop-color="#565656"/><stop offset="0.7500" stop-color="#3f3f3f"/><stop offset="0.9868" stop-color="#2a2a2a"/></linearGradient><linearGradient id="gb35" gradientUnits="userSpaceOnUse" x1="0" y1="156" x2="0" y2="308"><stop offset="0.0000" stop-color="#f2f2f2"/><stop offset="0.1725" stop-color="#f2f2f2"/><stop offset="0.2054" stop-color="#ababab"/><stop offset="0.2350" stop-color="#a4a4a4"/><stop offset="0.2963" stop-color="#989898"/><stop offset="0.3598" stop-color="#8a8a8a"/><stop offset="0.4058" stop-color="#808080"/><stop offset="0.4651" stop-color="#727272"/><stop offset="0.6184" stop-color="#565656"/><stop offset="0.7500" stop-color="#404040"/><stop offset="0.9868" stop-color="#2b2b2b"/></linearGradient><linearGradient id="gb36" gradientUnits="userSpaceOnUse" x1="0" y1="156" x2="0" y2="308"><stop offset="0.0000" stop-color="#f2f2f2"/><stop offset="0.1701" stop-color="#f2f2f2"/><stop offset="0.2029" stop-color="#aaaaaa"/><stop offset="0.2326" stop-color="#a4a4a4"/><stop offset="0.2948" stop-color="#979797"/><stop offset="0.3588" stop-color="#8a8a8a"/><stop offset="0.4049" stop-color="#808080"/><stop offset="0.4641" stop-color="#727272"/><stop offset="0.6184" stop-color="#565656"/><stop offset="0.7500" stop-color="#404040"/><stop offset="0.9868" stop-color="#2c2c2c"/></linearGradient><linearGradient id="gb37" gradientUnits="userSpaceOnUse" x1="0" y1="156" x2="0" y2="308"><stop offset="0.0000" stop-color="#f2f2f2"/><stop offset="0.1676" stop-color="#f2f2f2"/><stop offset="0.2005" stop-color="#aaaaaa"/><stop offset="0.2301" stop-color="#a3a3a3"/><stop offset="0.2933" stop-color="#979797"/><stop offset="0.3578" stop-color="#8a8a8a"/><stop offset="0.4039" stop-color="#808080"/><stop offset="0.4631" stop-color="#737373"/><stop offset="0.6184" stop-color="#565656"/><stop offset="0.7500" stop-color="#414141"/><stop offset="0.9868" stop-color="#2d2d2d"/></linearGradient><linearGradient id="gb38" gradientUnits="userSpaceOnUse" x1="0" y1="156" x2="0" y2="308"><stop offset="0.0000" stop-color="#f2f2f2"/><stop offset="0.1651" stop-color="#f2f2f2"/><stop offset="0.1980" stop-color="#a9a9a9"/><stop offset="0.2276" stop-color="#a3a3a3"/><stop offset="0.2918" stop-color="#969696"/><stop offset="0.3568" stop-color="#898989"/><stop offset="0.4029" stop-color="#808080"/><stop offset="0.4621" stop-color="#737373"/><stop offset="0.6184" stop-color="#575757"/><stop offset="0.7500" stop-color="#414141"/><stop offset="0.9868" stop-color="#2e2e2e"/></linearGradient><linearGradient id="gb39" gradientUnits="userSpaceOnUse" x1="0" y1="156" x2="0" y2="308"><stop offset="0.0000" stop-color="#f2f2f2"/><stop offset="0.1627" stop-color="#f2f2f2"/><stop offset="0.1956" stop-color="#a9a9a9"/><stop offset="0.2252" stop-color="#a2a2a2"/><stop offset="0.2904" stop-color="#969696"/><stop offset="0.3559" stop-color="#898989"/><stop offset="0.4019" stop-color="#808080"/><stop offset="0.4611" stop-color="#737373"/><stop offset="0.6184" stop-color="#575757"/><stop offset="0.7500" stop-color="#424242"/><stop offset="0.9868" stop-color="#2f2f2f"/></linearGradient><linearGradient id="gb40" gradientUnits="userSpaceOnUse" x1="0" y1="156" x2="0" y2="308"><stop offset="0.0000" stop-color="#f2f2f2"/><stop offset="0.1612" stop-color="#f2f2f2"/><stop offset="0.1941" stop-color="#a8a8a8"/><stop offset="0.2237" stop-color="#a2a2a2"/><stop offset="0.2895" stop-color="#959595"/><stop offset="0.3553" stop-color="#888888"/><stop offset="0.4013" stop-color="#808080"/><stop offset="0.4605" stop-color="#737373"/><stop offset="0.6184" stop-color="#575757"/><stop offset="0.7500" stop-color="#424242"/><stop offset="0.9868" stop-color="#2f2f2f"/></linearGradient><linearGradient id="gb41" gradientUnits="userSpaceOnUse" x1="0" y1="156" x2="0" y2="308"><stop offset="0.0000" stop-color="#f2f2f2"/><stop offset="0.1612" stop-color="#f2f2f2"/><stop offset="0.1941" stop-color="#a8a8a8"/><stop offset="0.2237" stop-color="#a2a2a2"/><stop offset="0.2895" stop-color="#959595"/><stop offset="0.3553" stop-color="#888888"/><stop offset="0.4013" stop-color="#808080"/><stop offset="0.4605" stop-color="#737373"/><stop offset="0.6184" stop-color="#575757"/><stop offset="0.7500" stop-color="#434343"/><stop offset="0.9868" stop-color="#303030"/></linearGradient><linearGradient id="gb42" gradientUnits="userSpaceOnUse" x1="0" y1="156" x2="0" y2="308"><stop offset="0.0000" stop-color="#f2f2f2"/><stop offset="0.1612" stop-color="#f2f2f2"/><stop offset="0.1941" stop-color="#a8a8a8"/><stop offset="0.2237" stop-color="#a2a2a2"/><stop offset="0.2895" stop-color="#959595"/><stop offset="0.3553" stop-color="#888888"/><stop offset="0.4013" stop-color="#808080"/><stop offset="0.4605" stop-color="#737373"/><stop offset="0.6184" stop-color="#575757"/><stop offset="0.7500" stop-color="#434343"/><stop offset="0.9868" stop-color="#303030"/></linearGradient><linearGradient id="gb43" gradientUnits="userSpaceOnUse" x1="0" y1="156" x2="0" y2="308"><stop offset="0.0000" stop-color="#f2f2f2"/><stop offset="0.1612" stop-color="#f2f2f2"/><stop offset="0.1941" stop-color="#a8a8a8"/><stop offset="0.2237" stop-color="#a2a2a2"/><stop offset="0.2895" stop-color="#959595"/><stop offset="0.3553" stop-color="#888888"/><stop offset="0.4013" stop-color="#808080"/><stop offset="0.4605" stop-color="#737373"/><stop offset="0.6184" stop-color="#575757"/><stop offset="0.7500" stop-color="#434343"/><stop offset="0.9868" stop-color="#303030"/></linearGradient><linearGradient id="gb44" gradientUnits="userSpaceOnUse" x1="0" y1="156" x2="0" y2="308"><stop offset="0.0000" stop-color="#f2f2f2"/><stop offset="0.1612" stop-color="#f2f2f2"/><stop offset="0.1941" stop-color="#a8a8a8"/><stop offset="0.2237" stop-color="#a2a2a2"/><stop offset="0.2895" stop-color="#959595"/><stop offset="0.3553" stop-color="#888888"/><stop offset="0.4013" stop-color="#808080"/><stop offset="0.4605" stop-color="#737373"/><stop offset="0.6184" stop-color="#575757"/><stop offset="0.7500" stop-color="#444444"/><stop offset="0.9868" stop-color="#313131"/></linearGradient><linearGradient id="gb45" gradientUnits="userSpaceOnUse" x1="0" y1="156" x2="0" y2="308"><stop offset="0.0000" stop-color="#f2f2f2"/><stop offset="0.1612" stop-color="#f2f2f2"/><stop offset="0.1941" stop-color="#a8a8a8"/><stop offset="0.2237" stop-color="#a2a2a2"/><stop offset="0.2895" stop-color="#959595"/><stop offset="0.3553" stop-color="#888888"/><stop offset="0.4013" stop-color="#808080"/><stop offset="0.4605" stop-color="#737373"/><stop offset="0.6184" stop-color="#575757"/><stop offset="0.7500" stop-color="#444444"/><stop offset="0.9868" stop-color="#313131"/></linearGradient><linearGradient id="gb46" gradientUnits="userSpaceOnUse" x1="0" y1="156" x2="0" y2="308"><stop offset="0.0000" stop-color="#f2f2f2"/><stop offset="0.1612" stop-color="#f2f2f2"/><stop offset="0.1941" stop-color="#a8a8a8"/><stop offset="0.2237" stop-color="#a2a2a2"/><stop offset="0.2895" stop-color="#959595"/><stop offset="0.3553" stop-color="#888888"/><stop offset="0.4013" stop-color="#808080"/><stop offset="0.4605" stop-color="#737373"/><stop offset="0.6184" stop-color="#575757"/><stop offset="0.7500" stop-color="#444444"/><stop offset="0.9868" stop-color="#323232"/></linearGradient><linearGradient id="gb47" gradientUnits="userSpaceOnUse" x1="0" y1="156" x2="0" y2="308"><stop offset="0.0000" stop-color="#f2f2f2"/><stop offset="0.1612" stop-color="#f2f2f2"/><stop offset="0.1941" stop-color="#a8a8a8"/><stop offset="0.2237" stop-color="#a2a2a2"/><stop offset="0.2895" stop-color="#959595"/><stop offset="0.3553" stop-color="#888888"/><stop offset="0.4013" stop-color="#808080"/><stop offset="0.4605" stop-color="#737373"/><stop offset="0.6184" stop-color="#575757"/><stop offset="0.7500" stop-color="#454545"/><stop offset="0.9868" stop-color="#323232"/></linearGradient><linearGradient id="gb48" gradientUnits="userSpaceOnUse" x1="0" y1="156" x2="0" y2="308"><stop offset="0.0000" stop-color="#f2f2f2"/><stop offset="0.1612" stop-color="#f2f2f2"/><stop offset="0.1941" stop-color="#a8a8a8"/><stop offset="0.2237" stop-color="#a2a2a2"/><stop offset="0.2895" stop-color="#959595"/><stop offset="0.3553" stop-color="#888888"/><stop offset="0.4013" stop-color="#808080"/><stop offset="0.4605" stop-color="#737373"/><stop offset="0.6184" stop-color="#575757"/><stop offset="0.7500" stop-color="#454545"/><stop offset="0.9868" stop-color="#323232"/></linearGradient><linearGradient id="gb49" gradientUnits="userSpaceOnUse" x1="0" y1="156" x2="0" y2="308"><stop offset="0.0000" stop-color="#f2f2f2"/><stop offset="0.1612" stop-color="#f2f2f2"/><stop offset="0.1941" stop-color="#a8a8a8"/><stop offset="0.2237" stop-color="#a2a2a2"/><stop offset="0.2895" stop-color="#959595"/><stop offset="0.3553" stop-color="#888888"/><stop offset="0.4013" stop-color="#808080"/><stop offset="0.4605" stop-color="#737373"/><stop offset="0.6184" stop-color="#585858"/><stop offset="0.7500" stop-color="#454545"/><stop offset="0.9868" stop-color="#333333"/></linearGradient><linearGradient id="gb50" gradientUnits="userSpaceOnUse" x1="0" y1="156" x2="0" y2="308"><stop offset="0.0000" stop-color="#f2f2f2"/><stop offset="0.1612" stop-color="#f2f2f2"/><stop offset="0.1941" stop-color="#a8a8a8"/><stop offset="0.2237" stop-color="#a2a2a2"/><stop offset="0.2895" stop-color="#959595"/><stop offset="0.3553" stop-color="#888888"/><stop offset="0.4013" stop-color="#808080"/><stop offset="0.4605" stop-color="#737373"/><stop offset="0.6184" stop-color="#585858"/><stop offset="0.7500" stop-color="#464646"/><stop offset="0.9868" stop-color="#333333"/></linearGradient><linearGradient id="gb51" gradientUnits="userSpaceOnUse" x1="0" y1="156" x2="0" y2="308"><stop offset="0.0000" stop-color="#f2f2f2"/><stop offset="0.1612" stop-color="#f2f2f2"/><stop offset="0.1941" stop-color="#a8a8a8"/><stop offset="0.2237" stop-color="#a2a2a2"/><stop offset="0.2895" stop-color="#959595"/><stop offset="0.3553" stop-color="#888888"/><stop offset="0.4013" stop-color="#808080"/><stop offset="0.4605" stop-color="#737373"/><stop offset="0.6184" stop-color="#585858"/><stop offset="0.7500" stop-color="#464646"/><stop offset="0.9868" stop-color="#343434"/></linearGradient><linearGradient id="gb52" gradientUnits="userSpaceOnUse" x1="0" y1="156" x2="0" y2="308"><stop offset="0.0000" stop-color="#f2f2f2"/><stop offset="0.1612" stop-color="#f2f2f2"/><stop offset="0.1941" stop-color="#a8a8a8"/><stop offset="0.2237" stop-color="#a2a2a2"/><stop offset="0.2895" stop-color="#959595"/><stop offset="0.3553" stop-color="#888888"/><stop offset="0.4013" stop-color="#808080"/><stop offset="0.4605" stop-color="#737373"/><stop offset="0.6184" stop-color="#585858"/><stop offset="0.7500" stop-color="#464646"/><stop offset="0.9868" stop-color="#343434"/></linearGradient><linearGradient id="gb53" gradientUnits="userSpaceOnUse" x1="0" y1="156" x2="0" y2="308"><stop offset="0.0000" stop-color="#f2f2f2"/><stop offset="0.1612" stop-color="#f2f2f2"/><stop offset="0.1941" stop-color="#a8a8a8"/><stop offset="0.2237" stop-color="#a2a2a2"/><stop offset="0.2895" stop-color="#959595"/><stop offset="0.3553" stop-color="#888888"/><stop offset="0.4013" stop-color="#808080"/><stop offset="0.4605" stop-color="#737373"/><stop offset="0.6184" stop-color="#585858"/><stop offset="0.7500" stop-color="#474747"/><stop offset="0.9868" stop-color="#343434"/></linearGradient><linearGradient id="gb54" gradientUnits="userSpaceOnUse" x1="0" y1="156" x2="0" y2="308"><stop offset="0.0000" stop-color="#f2f2f2"/><stop offset="0.1612" stop-color="#f2f2f2"/><stop offset="0.1941" stop-color="#a8a8a8"/><stop offset="0.2237" stop-color="#a2a2a2"/><stop offset="0.2895" stop-color="#959595"/><stop offset="0.3553" stop-color="#888888"/><stop offset="0.4013" stop-color="#808080"/><stop offset="0.4605" stop-color="#737373"/><stop offset="0.6184" stop-color="#585858"/><stop offset="0.7500" stop-color="#474747"/><stop offset="0.9868" stop-color="#353535"/></linearGradient><linearGradient id="gb55" gradientUnits="userSpaceOnUse" x1="0" y1="156" x2="0" y2="308"><stop offset="0.0000" stop-color="#f2f2f2"/><stop offset="0.1612" stop-color="#f2f2f2"/><stop offset="0.1941" stop-color="#a8a8a8"/><stop offset="0.2237" stop-color="#a2a2a2"/><stop offset="0.2895" stop-color="#959595"/><stop offset="0.3553" stop-color="#888888"/><stop offset="0.4013" stop-color="#808080"/><stop offset="0.4605" stop-color="#737373"/><stop offset="0.6184" stop-color="#585858"/><stop offset="0.7500" stop-color="#474747"/><stop offset="0.9868" stop-color="#353535"/></linearGradient><linearGradient id="gb56" gradientUnits="userSpaceOnUse" x1="0" y1="156" x2="0" y2="308"><stop offset="0.0000" stop-color="#f2f2f2"/><stop offset="0.1612" stop-color="#f2f2f2"/><stop offset="0.1941" stop-color="#a8a8a8"/><stop offset="0.2237" stop-color="#a2a2a2"/><stop offset="0.2895" stop-color="#959595"/><stop offset="0.3553" stop-color="#888888"/><stop offset="0.4013" stop-color="#808080"/><stop offset="0.4605" stop-color="#747474"/><stop offset="0.6184" stop-color="#585858"/><stop offset="0.7500" stop-color="#474747"/><stop offset="0.9868" stop-color="#353535"/></linearGradient><linearGradient id="gb57" gradientUnits="userSpaceOnUse" x1="0" y1="156" x2="0" y2="308"><stop offset="0.0000" stop-color="#f2f2f2"/><stop offset="0.1612" stop-color="#f2f2f2"/><stop offset="0.1941" stop-color="#a8a8a8"/><stop offset="0.2237" stop-color="#a2a2a2"/><stop offset="0.2895" stop-color="#959595"/><stop offset="0.3553" stop-color="#888888"/><stop offset="0.4013" stop-color="#808080"/><stop offset="0.4605" stop-color="#747474"/><stop offset="0.6184" stop-color="#585858"/><stop offset="0.7500" stop-color="#484848"/><stop offset="0.9868" stop-color="#363636"/></linearGradient><linearGradient id="gb58" gradientUnits="userSpaceOnUse" x1="0" y1="156" x2="0" y2="308"><stop offset="0.0000" stop-color="#f2f2f2"/><stop offset="0.1612" stop-color="#f2f2f2"/><stop offset="0.1941" stop-color="#a8a8a8"/><stop offset="0.2237" stop-color="#a2a2a2"/><stop offset="0.2895" stop-color="#959595"/><stop offset="0.3553" stop-color="#888888"/><stop offset="0.4013" stop-color="#808080"/><stop offset="0.4605" stop-color="#747474"/><stop offset="0.6184" stop-color="#585858"/><stop offset="0.7500" stop-color="#484848"/><stop offset="0.9868" stop-color="#363636"/></linearGradient><linearGradient id="gb59" gradientUnits="userSpaceOnUse" x1="0" y1="156" x2="0" y2="308"><stop offset="0.0000" stop-color="#f2f2f2"/><stop offset="0.1612" stop-color="#f2f2f2"/><stop offset="0.1941" stop-color="#a8a8a8"/><stop offset="0.2237" stop-color="#a2a2a2"/><stop offset="0.2895" stop-color="#959595"/><stop offset="0.3553" stop-color="#888888"/><stop offset="0.4013" stop-color="#808080"/><stop offset="0.4605" stop-color="#747474"/><stop offset="0.6184" stop-color="#595959"/><stop offset="0.7500" stop-color="#484848"/><stop offset="0.9868" stop-color="#373737"/></linearGradient><linearGradient id="gb60" gradientUnits="userSpaceOnUse" x1="0" y1="156" x2="0" y2="308"><stop offset="0.0000" stop-color="#f2f2f2"/><stop offset="0.1612" stop-color="#f2f2f2"/><stop offset="0.1941" stop-color="#a8a8a8"/><stop offset="0.2237" stop-color="#a2a2a2"/><stop offset="0.2895" stop-color="#959595"/><stop offset="0.3553" stop-color="#888888"/><stop offset="0.4013" stop-color="#808080"/><stop offset="0.4605" stop-color="#747474"/><stop offset="0.6184" stop-color="#595959"/><stop offset="0.7500" stop-color="#494949"/><stop offset="0.9868" stop-color="#373737"/></linearGradient><linearGradient id="gb61" gradientUnits="userSpaceOnUse" x1="0" y1="156" x2="0" y2="308"><stop offset="0.0000" stop-color="#f2f2f2"/><stop offset="0.1612" stop-color="#f2f2f2"/><stop offset="0.1941" stop-color="#a8a8a8"/><stop offset="0.2237" stop-color="#a2a2a2"/><stop offset="0.2895" stop-color="#959595"/><stop offset="0.3553" stop-color="#888888"/><stop offset="0.4013" stop-color="#808080"/><stop offset="0.4605" stop-color="#747474"/><stop offset="0.6184" stop-color="#595959"/><stop offset="0.7500" stop-color="#494949"/><stop offset="0.9868" stop-color="#373737"/></linearGradient><linearGradient id="gb62" gradientUnits="userSpaceOnUse" x1="0" y1="156" x2="0" y2="308"><stop offset="0.0000" stop-color="#f2f2f2"/><stop offset="0.1612" stop-color="#f2f2f2"/><stop offset="0.1941" stop-color="#a8a8a8"/><stop offset="0.2237" stop-color="#a2a2a2"/><stop offset="0.2895" stop-color="#959595"/><stop offset="0.3553" stop-color="#888888"/><stop offset="0.4013" stop-color="#808080"/><stop offset="0.4605" stop-color="#747474"/><stop offset="0.6184" stop-color="#595959"/><stop offset="0.7500" stop-color="#494949"/><stop offset="0.9868" stop-color="#383838"/></linearGradient><linearGradient id="gb63" gradientUnits="userSpaceOnUse" x1="0" y1="156" x2="0" y2="308"><stop offset="0.0000" stop-color="#f2f2f2"/><stop offset="0.1612" stop-color="#f2f2f2"/><stop offset="0.1941" stop-color="#a8a8a8"/><stop offset="0.2237" stop-color="#a2a2a2"/><stop offset="0.2895" stop-color="#959595"/><stop offset="0.3553" stop-color="#888888"/><stop offset="0.4013" stop-color="#808080"/><stop offset="0.4605" stop-color="#747474"/><stop offset="0.6184" stop-color="#595959"/><stop offset="0.7500" stop-color="#4a4a4a"/><stop offset="0.9868" stop-color="#383838"/></linearGradient><linearGradient id="gb64" gradientUnits="userSpaceOnUse" x1="0" y1="156" x2="0" y2="308"><stop offset="0.0000" stop-color="#f2f2f2"/><stop offset="0.1612" stop-color="#f2f2f2"/><stop offset="0.1941" stop-color="#a8a8a8"/><stop offset="0.2237" stop-color="#a2a2a2"/><stop offset="0.2895" stop-color="#959595"/><stop offset="0.3553" stop-color="#888888"/><stop offset="0.4013" stop-color="#808080"/><stop offset="0.4605" stop-color="#747474"/><stop offset="0.6184" stop-color="#595959"/><stop offset="0.7500" stop-color="#4a4a4a"/><stop offset="0.9868" stop-color="#383838"/></linearGradient><linearGradient id="gb65" gradientUnits="userSpaceOnUse" x1="0" y1="156" x2="0" y2="308"><stop offset="0.0000" stop-color="#f2f2f2"/><stop offset="0.1612" stop-color="#f2f2f2"/><stop offset="0.1941" stop-color="#a8a8a8"/><stop offset="0.2237" stop-color="#a2a2a2"/><stop offset="0.2895" stop-color="#959595"/><stop offset="0.3553" stop-color="#888888"/><stop offset="0.4013" stop-color="#808080"/><stop offset="0.4605" stop-color="#747474"/><stop offset="0.6184" stop-color="#595959"/><stop offset="0.7500" stop-color="#4a4a4a"/><stop offset="0.9868" stop-color="#393939"/></linearGradient><linearGradient id="gb66" gradientUnits="userSpaceOnUse" x1="0" y1="156" x2="0" y2="308"><stop offset="0.0000" stop-color="#f2f2f2"/><stop offset="0.1612" stop-color="#f2f2f2"/><stop offset="0.1941" stop-color="#a8a8a8"/><stop offset="0.2237" stop-color="#a2a2a2"/><stop offset="0.2895" stop-color="#959595"/><stop offset="0.3553" stop-color="#888888"/><stop offset="0.4013" stop-color="#808080"/><stop offset="0.4605" stop-color="#747474"/><stop offset="0.6184" stop-color="#595959"/><stop offset="0.7500" stop-color="#4b4b4b"/><stop offset="0.9868" stop-color="#393939"/></linearGradient><linearGradient id="gb67" gradientUnits="userSpaceOnUse" x1="0" y1="156" x2="0" y2="308"><stop offset="0.0000" stop-color="#f2f2f2"/><stop offset="0.1612" stop-color="#f2f2f2"/><stop offset="0.1941" stop-color="#a8a8a8"/><stop offset="0.2237" stop-color="#a2a2a2"/><stop offset="0.2895" stop-color="#959595"/><stop offset="0.3553" stop-color="#888888"/><stop offset="0.4013" stop-color="#808080"/><stop offset="0.4605" stop-color="#747474"/><stop offset="0.6184" stop-color="#595959"/><stop offset="0.7500" stop-color="#4b4b4b"/><stop offset="0.9868" stop-color="#393939"/></linearGradient><linearGradient id="cba" x1="0" y1="1" x2="0" y2="0"><stop offset="0" stop-color="#000"/><stop offset="1" stop-color="#fff"/></linearGradient></defs><g filter="url(#fa)"><rect x="46" y="0" width="1" height="152" fill="url(#ga0)"/><rect x="47" y="0" width="1" height="152" fill="url(#ga1)"/><rect x="48" y="0" width="1" height="152" fill="url(#ga2)"/><rect x="49" y="0" width="1" height="152" fill="url(#ga3)"/><rect x="50" y="0" width="1" height="152" fill="url(#ga4)"/><rect x="51" y="0" width="1" height="152" fill="url(#ga5)"/><rect x="52" y="0" width="1" height="152" fill="url(#ga6)"/><rect x="53" y="0" width="1" height="152" fill="url(#ga7)"/><rect x="54" y="0" width="1" height="152" fill="url(#ga8)"/><rect x="55" y="0" width="1" height="152" fill="url(#ga9)"/><rect x="56" y="0" width="1" height="152" fill="url(#ga10)"/><rect x="57" y="0" width="1" height="152" fill="url(#ga11)"/><rect x="58" y="0" width="1" height="152" fill="url(#ga12)"/><rect x="59" y="0" width="1" height="152" fill="url(#ga13)"/><rect x="60" y="0" width="1" height="152" fill="url(#ga14)"/><rect x="61" y="0" width="1" height="152" fill="url(#ga15)"/><rect x="62" y="0" width="1" height="152" fill="url(#ga16)"/><rect x="63" y="0" width="1" height="152" fill="url(#ga17)"/><rect x="64" y="0" width="1" height="152" fill="url(#ga18)"/><rect x="65" y="0" width="1" height="152" fill="url(#ga19)"/><rect x="66" y="0" width="1" height="152" fill="url(#ga20)"/><rect x="67" y="0" width="1" height="152" fill="url(#ga21)"/><rect x="68" y="0" width="1" height="152" fill="url(#ga22)"/><rect x="69" y="0" width="1" height="152" fill="url(#ga23)"/><rect x="70" y="0" width="1" height="152" fill="url(#ga24)"/><rect x="71" y="0" width="1" height="152" fill="url(#ga25)"/><rect x="72" y="0" width="1" height="152" fill="url(#ga26)"/><rect x="73" y="0" width="1" height="152" fill="url(#ga27)"/><rect x="74" y="0" width="1" height="152" fill="url(#ga28)"/><rect x="75" y="0" width="1" height="152" fill="url(#ga29)"/><rect x="76" y="0" width="1" height="152" fill="url(#ga30)"/><rect x="77" y="0" width="1" height="152" fill="url(#ga31)"/><rect x="78" y="0" width="1" height="152" fill="url(#ga32)"/><rect x="79" y="0" width="1" height="152" fill="url(#ga33)"/><rect x="80" y="0" width="1" height="152" fill="url(#ga34)"/><rect x="81" y="0" width="1" height="152" fill="url(#ga35)"/><rect x="82" y="0" width="1" height="152" fill="url(#ga36)"/><rect x="83" y="0" width="1" height="152" fill="url(#ga37)"/><rect x="84" y="0" width="1" height="152" fill="url(#ga38)"/><rect x="85" y="0" width="1" height="152" fill="url(#ga39)"/><rect x="86" y="0" width="1" height="152" fill="url(#ga40)"/><rect x="87" y="0" width="1" height="152" fill="url(#ga41)"/><rect x="88" y="0" width="1" height="152" fill="url(#ga42)"/><rect x="89" y="0" width="1" height="152" fill="url(#ga43)"/><rect x="90" y="0" width="1" height="152" fill="url(#ga44)"/><rect x="91" y="0" width="1" height="152" fill="url(#ga45)"/><rect x="92" y="0" width="1" height="152" fill="url(#ga46)"/><rect x="93" y="0" width="1" height="152" fill="url(#ga47)"/><rect x="94" y="0" width="1" height="152" fill="url(#ga48)"/><rect x="95" y="0" width="1" height="152" fill="url(#ga49)"/><rect x="96" y="0" width="1" height="152" fill="url(#ga50)"/><rect x="97" y="0" width="1" height="152" fill="url(#ga51)"/><rect x="98" y="0" width="1" height="152" fill="url(#ga52)"/><rect x="99" y="0" width="1" height="152" fill="url(#ga53)"/><rect x="100" y="0" width="1" height="152" fill="url(#ga54)"/><rect x="101" y="0" width="1" height="152" fill="url(#ga55)"/><rect x="102" y="0" width="1" height="152" fill="url(#ga56)"/><rect x="103" y="0" width="1" height="152" fill="url(#ga57)"/><rect x="104" y="0" width="1" height="152" fill="url(#ga58)"/><rect x="105" y="0" width="1" height="152" fill="url(#ga59)"/><rect x="106" y="0" width="1" height="152" fill="url(#ga60)"/><rect x="107" y="0" width="1" height="152" fill="url(#ga61)"/><rect x="108" y="0" width="1" height="152" fill="url(#ga62)"/><rect x="109" y="0" width="1" height="152" fill="url(#ga63)"/><rect x="110" y="0" width="1" height="152" fill="url(#ga64)"/><rect x="111" y="0" width="1" height="152" fill="url(#ga65)"/><rect x="112" y="0" width="1" height="152" fill="url(#ga66)"/><rect x="113" y="0" width="188" height="152" fill="url(#ga67)"/></g><g filter="url(#fb)"><rect x="46" y="156" width="1" height="152" fill="url(#gb0)"/><rect x="47" y="156" width="1" height="152" fill="url(#gb1)"/><rect x="48" y="156" width="1" height="152" fill="url(#gb2)"/><rect x="49" y="156" width="1" height="152" fill="url(#gb3)"/><rect x="50" y="156" width="1" height="152" fill="url(#gb4)"/><rect x="51" y="156" width="1" height="152" fill="url(#gb5)"/><rect x="52" y="156" width="1" height="152" fill="url(#gb6)"/><rect x="53" y="156" width="1" height="152" fill="url(#gb7)"/><rect x="54" y="156" width="1" height="152" fill="url(#gb8)"/><rect x="55" y="156" width="1" height="152" fill="url(#gb9)"/><rect x="56" y="156" width="1" height="152" fill="url(#gb10)"/><rect x="57" y="156" width="1" height="152" fill="url(#gb11)"/><rect x="58" y="156" width="1" height="152" fill="url(#gb12)"/><rect x="59" y="156" width="1" height="152" fill="url(#gb13)"/><rect x="60" y="156" width="1" height="152" fill="url(#gb14)"/><rect x="61" y="156" width="1" height="152" fill="url(#gb15)"/><rect x="62" y="156" width="1" height="152" fill="url(#gb16)"/><rect x="63" y="156" width="1" height="152" fill="url(#gb17)"/><rect x="64" y="156" width="1" height="152" fill="url(#gb18)"/><rect x="65" y="156" width="1" height="152" fill="url(#gb19)"/><rect x="66" y="156" width="1" height="152" fill="url(#gb20)"/><rect x="67" y="156" width="1" height="152" fill="url(#gb21)"/><rect x="68" y="156" width="1" height="152" fill="url(#gb22)"/><rect x="69" y="156" width="1" height="152" fill="url(#gb23)"/><rect x="70" y="156" width="1" height="152" fill="url(#gb24)"/><rect x="71" y="156" width="1" height="152" fill="url(#gb25)"/><rect x="72" y="156" width="1" height="152" fill="url(#gb26)"/><rect x="73" y="156" width="1" height="152" fill="url(#gb27)"/><rect x="74" y="156" width="1" height="152" fill="url(#gb28)"/><rect x="75" y="156" width="1" height="152" fill="url(#gb29)"/><rect x="76" y="156" width="1" height="152" fill="url(#gb30)"/><rect x="77" y="156" width="1" height="152" fill="url(#gb31)"/><rect x="78" y="156" width="1" height="152" fill="url(#gb32)"/><rect x="79" y="156" width="1" height="152" fill="url(#gb33)"/><rect x="80" y="156" width="1" height="152" fill="url(#gb34)"/><rect x="81" y="156" width="1" height="152" fill="url(#gb35)"/><rect x="82" y="156" width="1" height="152" fill="url(#gb36)"/><rect x="83" y="156" width="1" height="152" fill="url(#gb37)"/><rect x="84" y="156" width="1" height="152" fill="url(#gb38)"/><rect x="85" y="156" width="1" height="152" fill="url(#gb39)"/><rect x="86" y="156" width="1" height="152" fill="url(#gb40)"/><rect x="87" y="156" width="1" height="152" fill="url(#gb41)"/><rect x="88" y="156" width="1" height="152" fill="url(#gb42)"/><rect x="89" y="156" width="1" height="152" fill="url(#gb43)"/><rect x="90" y="156" width="1" height="152" fill="url(#gb44)"/><rect x="91" y="156" width="1" height="152" fill="url(#gb45)"/><rect x="92" y="156" width="1" height="152" fill="url(#gb46)"/><rect x="93" y="156" width="1" height="152" fill="url(#gb47)"/><rect x="94" y="156" width="1" height="152" fill="url(#gb48)"/><rect x="95" y="156" width="1" height="152" fill="url(#gb49)"/><rect x="96" y="156" width="1" height="152" fill="url(#gb50)"/><rect x="97" y="156" width="1" height="152" fill="url(#gb51)"/><rect x="98" y="156" width="1" height="152" fill="url(#gb52)"/><rect x="99" y="156" width="1" height="152" fill="url(#gb53)"/><rect x="100" y="156" width="1" height="152" fill="url(#gb54)"/><rect x="101" y="156" width="1" height="152" fill="url(#gb55)"/><rect x="102" y="156" width="1" height="152" fill="url(#gb56)"/><rect x="103" y="156" width="1" height="152" fill="url(#gb57)"/><rect x="104" y="156" width="1" height="152" fill="url(#gb58)"/><rect x="105" y="156" width="1" height="152" fill="url(#gb59)"/><rect x="106" y="156" width="1" height="152" fill="url(#gb60)"/><rect x="107" y="156" width="1" height="152" fill="url(#gb61)"/><rect x="108" y="156" width="1" height="152" fill="url(#gb62)"/><rect x="109" y="156" width="1" height="152" fill="url(#gb63)"/><rect x="110" y="156" width="1" height="152" fill="url(#gb64)"/><rect x="111" y="156" width="1" height="152" fill="url(#gb65)"/><rect x="112" y="156" width="1" height="152" fill="url(#gb66)"/><rect x="113" y="156" width="188" height="152" fill="url(#gb67)"/></g><g filter="url(#fa)"><rect x="302" y="0" width="5" height="152" fill="url(#cba)"/></g><g filter="url(#fb)"><rect x="302" y="156" width="5" height="152" fill="url(#cba)"/></g><g fill="#fff" fill-opacity="0.85" shape-rendering="auto"><rect x="99.2" y="1.45" width="1.6" height="1.15"/><rect x="99.2" y="4.50" width="1.6" height="1.15"/><rect x="99.2" y="7.54" width="1.6" height="1.15"/><rect x="99.2" y="10.59" width="1.6" height="1.15"/><rect x="99.2" y="13.63" width="1.6" height="1.15"/><rect x="99.2" y="16.68" width="1.6" height="1.15"/><rect x="99.2" y="19.73" width="1.6" height="1.15"/><rect x="99.2" y="22.77" width="1.6" height="1.15"/><rect x="99.2" y="25.82" width="1.6" height="1.15"/><rect x="99.2" y="28.86" width="1.6" height="1.15"/><rect x="99.2" y="31.90" width="1.6" height="1.15"/><rect x="99.2" y="34.95" width="1.6" height="1.15"/><rect x="99.2" y="37.99" width="1.6" height="1.15"/><rect x="99.2" y="41.04" width="1.6" height="1.15"/><rect x="99.2" y="44.08" width="1.6" height="1.15"/><rect x="99.2" y="47.13" width="1.6" height="1.15"/><rect x="99.2" y="50.17" width="1.6" height="1.15"/><rect x="99.2" y="53.22" width="1.6" height="1.15"/><rect x="99.2" y="56.27" width="1.6" height="1.15"/><rect x="99.2" y="59.31" width="1.6" height="1.15"/><rect x="99.2" y="62.35" width="1.6" height="1.15"/><rect x="99.2" y="65.40" width="1.6" height="1.15"/><rect x="99.2" y="68.44" width="1.6" height="1.15"/><rect x="99.2" y="71.49" width="1.6" height="1.15"/><rect x="99.2" y="74.53" width="1.6" height="1.15"/><rect x="99.2" y="77.58" width="1.6" height="1.15"/><rect x="99.2" y="80.62" width="1.6" height="1.15"/><rect x="99.2" y="83.67" width="1.6" height="1.15"/><rect x="99.2" y="86.71" width="1.6" height="1.15"/><rect x="99.2" y="89.76" width="1.6" height="1.15"/><rect x="99.2" y="92.80" width="1.6" height="1.15"/><rect x="99.2" y="95.85" width="1.6" height="1.15"/><rect x="99.2" y="98.89" width="1.6" height="1.15"/><rect x="99.2" y="101.94" width="1.6" height="1.15"/><rect x="99.2" y="104.98" width="1.6" height="1.15"/><rect x="99.2" y="108.03" width="1.6" height="1.15"/><rect x="99.2" y="111.08" width="1.6" height="1.15"/><rect x="99.2" y="114.12" width="1.6" height="1.15"/><rect x="99.2" y="117.16" width="1.6" height="1.15"/><rect x="99.2" y="120.21" width="1.6" height="1.15"/><rect x="99.2" y="123.25" width="1.6" height="1.15"/><rect x="99.2" y="126.30" width="1.6" height="1.15"/><rect x="99.2" y="129.34" width="1.6" height="1.15"/><rect x="99.2" y="132.39" width="1.6" height="1.15"/><rect x="99.2" y="135.44" width="1.6" height="1.15"/><rect x="99.2" y="138.48" width="1.6" height="1.15"/><rect x="99.2" y="141.53" width="1.6" height="1.15"/><rect x="99.2" y="144.57" width="1.6" height="1.15"/><rect x="99.2" y="147.62" width="1.6" height="1.15"/><rect x="99.2" y="157.03" width="1.6" height="1.15"/><rect x="99.2" y="160.07" width="1.6" height="1.15"/><rect x="99.2" y="163.12" width="1.6" height="1.15"/><rect x="99.2" y="166.16" width="1.6" height="1.15"/><rect x="99.2" y="169.21" width="1.6" height="1.15"/><rect x="99.2" y="172.25" width="1.6" height="1.15"/><rect x="99.2" y="175.30" width="1.6" height="1.15"/><rect x="99.2" y="178.34" width="1.6" height="1.15"/><rect x="99.2" y="181.38" width="1.6" height="1.15"/><rect x="99.2" y="184.43" width="1.6" height="1.15"/><rect x="99.2" y="187.47" width="1.6" height="1.15"/><rect x="99.2" y="190.52" width="1.6" height="1.15"/><rect x="99.2" y="193.56" width="1.6" height="1.15"/><rect x="99.2" y="196.61" width="1.6" height="1.15"/><rect x="99.2" y="199.66" width="1.6" height="1.15"/><rect x="99.2" y="202.70" width="1.6" height="1.15"/><rect x="99.2" y="205.75" width="1.6" height="1.15"/><rect x="99.2" y="208.79" width="1.6" height="1.15"/><rect x="99.2" y="211.84" width="1.6" height="1.15"/><rect x="99.2" y="214.88" width="1.6" height="1.15"/><rect x="99.2" y="217.93" width="1.6" height="1.15"/><rect x="99.2" y="220.97" width="1.6" height="1.15"/><rect x="99.2" y="224.01" width="1.6" height="1.15"/><rect x="99.2" y="227.06" width="1.6" height="1.15"/><rect x="99.2" y="230.11" width="1.6" height="1.15"/><rect x="99.2" y="233.15" width="1.6" height="1.15"/><rect x="99.2" y="236.19" width="1.6" height="1.15"/><rect x="99.2" y="239.24" width="1.6" height="1.15"/><rect x="99.2" y="242.28" width="1.6" height="1.15"/><rect x="99.2" y="245.33" width="1.6" height="1.15"/><rect x="99.2" y="248.38" width="1.6" height="1.15"/><rect x="99.2" y="251.42" width="1.6" height="1.15"/><rect x="99.2" y="254.47" width="1.6" height="1.15"/><rect x="99.2" y="257.51" width="1.6" height="1.15"/><rect x="99.2" y="260.56" width="1.6" height="1.15"/><rect x="99.2" y="263.60" width="1.6" height="1.15"/><rect x="99.2" y="266.65" width="1.6" height="1.15"/><rect x="99.2" y="269.69" width="1.6" height="1.15"/><rect x="99.2" y="272.74" width="1.6" height="1.15"/><rect x="99.2" y="275.78" width="1.6" height="1.15"/><rect x="99.2" y="278.82" width="1.6" height="1.15"/><rect x="99.2" y="281.87" width="1.6" height="1.15"/><rect x="99.2" y="284.92" width="1.6" height="1.15"/><rect x="99.2" y="287.96" width="1.6" height="1.15"/><rect x="99.2" y="291.00" width="1.6" height="1.15"/><rect x="99.2" y="294.05" width="1.6" height="1.15"/><rect x="99.2" y="297.09" width="1.6" height="1.15"/><rect x="99.2" y="300.14" width="1.6" height="1.15"/><rect x="99.2" y="303.19" width="1.6" height="1.15"/></g><rect x="46" y="0" width="1" height="152" fill="#262626"/><rect x="300" y="0" width="1" height="152" fill="#262626"/><rect x="46" y="151" width="255" height="1" fill="#262626"/><rect x="46" y="0" width="255" height="1" fill="#262626"/><rect x="46" y="156" width="1" height="152" fill="#262626"/><rect x="300" y="156" width="1" height="152" fill="#262626"/><rect x="46" y="307" width="255" height="1" fill="#262626"/><rect x="46" y="156" width="255" height="1" fill="#262626"/><g shape-rendering="auto"><rect x="47" y="148" width="3.5" height="1" fill="#262626"/><rect x="296.5" y="148" width="3.5" height="1" fill="#262626"/><rect x="47" y="144" width="3.5" height="1" fill="#262626"/><rect x="296.5" y="144" width="3.5" height="1" fill="#262626"/><rect x="47" y="140" width="3.5" height="1" fill="#262626"/><rect x="296.5" y="140" width="3.5" height="1" fill="#262626"/><rect x="47" y="135" width="3.5" height="1" fill="#262626"/><rect x="296.5" y="135" width="3.5" height="1" fill="#262626"/><rect x="47" y="131" width="3.5" height="1" fill="#262626"/><rect x="296.5" y="131" width="3.5" height="1" fill="#262626"/><rect x="47" y="127" width="6.5" height="1" fill="#262626"/><rect x="293.5" y="127" width="6.5" height="1" fill="#262626"/><rect x="47" y="123" width="3.5" height="1" fill="#262626"/><rect x="296.5" y="123" width="3.5" height="1" fill="#262626"/><rect x="47" y="119" width="3.5" height="1" fill="#262626"/><rect x="296.5" y="119" width="3.5" height="1" fill="#262626"/><rect x="47" y="115" width="3.5" height="1" fill="#262626"/><rect x="296.5" y="115" width="3.5" height="1" fill="#262626"/><rect x="47" y="111" width="3.5" height="1" fill="#262626"/><rect x="296.5" y="111" width="3.5" height="1" fill="#262626"/><rect x="47" y="107" width="3.5" height="1" fill="#262626"/><rect x="296.5" y="107" width="3.5" height="1" fill="#262626"/><rect x="47" y="103" width="6.5" height="1" fill="#262626"/><rect x="293.5" y="103" width="6.5" height="1" fill="#262626"/><rect x="47" y="99" width="3.5" height="1" fill="#262626"/><rect x="296.5" y="99" width="3.5" height="1" fill="#262626"/><rect x="47" y="95" width="3.5" height="1" fill="#262626"/><rect x="296.5" y="95" width="3.5" height="1" fill="#262626"/><rect x="47" y="91" width="3.5" height="1" fill="#262626"/><rect x="296.5" y="91" width="3.5" height="1" fill="#262626"/><rect x="47" y="86" width="3.5" height="1" fill="#262626"/><rect x="296.5" y="86" width="3.5" height="1" fill="#262626"/><rect x="47" y="82" width="3.5" height="1" fill="#262626"/><rect x="296.5" y="82" width="3.5" height="1" fill="#262626"/><rect x="47" y="78" width="6.5" height="1" fill="#262626"/><rect x="293.5" y="78" width="6.5" height="1" fill="#262626"/><rect x="47" y="74" width="3.5" height="1" fill="#262626"/><rect x="296.5" y="74" width="3.5" height="1" fill="#262626"/><rect x="47" y="70" width="3.5" height="1" fill="#262626"/><rect x="296.5" y="70" width="3.5" height="1" fill="#262626"/><rect x="47" y="66" width="3.5" height="1" fill="#262626"/><rect x="296.5" y="66" width="3.5" height="1" fill="#262626"/><rect x="47" y="62" width="3.5" height="1" fill="#262626"/><rect x="296.5" y="62" width="3.5" height="1" fill="#262626"/><rect x="47" y="58" width="3.5" height="1" fill="#262626"/><rect x="296.5" y="58" width="3.5" height="1" fill="#262626"/><rect x="47" y="54" width="6.5" height="1" fill="#262626"/><rect x="293.5" y="54" width="6.5" height="1" fill="#262626"/><rect x="47" y="50" width="3.5" height="1" fill="#262626"/><rect x="296.5" y="50" width="3.5" height="1" fill="#262626"/><rect x="47" y="46" width="3.5" height="1" fill="#262626"/><rect x="296.5" y="46" width="3.5" height="1" fill="#262626"/><rect x="47" y="41" width="3.5" height="1" fill="#262626"/><rect x="296.5" y="41" width="3.5" height="1" fill="#262626"/><rect x="47" y="37" width="3.5" height="1" fill="#262626"/><rect x="296.5" y="37" width="3.5" height="1" fill="#262626"/><rect x="47" y="33" width="3.5" height="1" fill="#262626"/><rect x="296.5" y="33" width="3.5" height="1" fill="#262626"/><rect x="47" y="29" width="6.5" height="1" fill="#262626"/><rect x="293.5" y="29" width="6.5" height="1" fill="#262626"/><rect x="47" y="25" width="3.5" height="1" fill="#262626"/><rect x="296.5" y="25" width="3.5" height="1" fill="#262626"/><rect x="47" y="21" width="3.5" height="1" fill="#262626"/><rect x="296.5" y="21" width="3.5" height="1" fill="#262626"/><rect x="47" y="17" width="3.5" height="1" fill="#262626"/><rect x="296.5" y="17" width="3.5" height="1" fill="#262626"/><rect x="47" y="13" width="3.5" height="1" fill="#262626"/><rect x="296.5" y="13" width="3.5" height="1" fill="#262626"/><rect x="47" y="9" width="3.5" height="1" fill="#262626"/><rect x="296.5" y="9" width="3.5" height="1" fill="#262626"/><rect x="47" y="5" width="6.5" height="1" fill="#262626"/><rect x="293.5" y="5" width="6.5" height="1" fill="#262626"/><rect x="47" y="1" width="3.5" height="1" fill="#262626"/><rect x="296.5" y="1" width="3.5" height="1" fill="#262626"/><rect x="49" y="148" width="1" height="3" fill="#262626"/><rect x="49" y="1" width="1" height="3.2" fill="#262626"/><rect x="54" y="148" width="1" height="3" fill="#262626"/><rect x="54" y="1" width="1" height="3.2" fill="#262626"/><rect x="59" y="145" width="1" height="6" fill="#262626"/><rect x="59" y="1" width="1" height="6" fill="#262626"/><rect x="65" y="148" width="1" height="3" fill="#262626"/><rect x="65" y="1" width="1" height="3.2" fill="#262626"/><rect x="70" y="148" width="1" height="3" fill="#262626"/><rect x="70" y="1" width="1" height="3.2" fill="#262626"/><rect x="75" y="148" width="1" height="3" fill="#262626"/><rect x="75" y="1" width="1" height="3.2" fill="#262626"/><rect x="81" y="148" width="1" height="3" fill="#262626"/><rect x="81" y="1" width="1" height="3.2" fill="#262626"/><rect x="86" y="145" width="1" height="6" fill="#262626"/><rect x="86" y="1" width="1" height="6" fill="#262626"/><rect x="91" y="148" width="1" height="3" fill="#262626"/><rect x="91" y="1" width="1" height="3.2" fill="#262626"/><rect x="97" y="148" width="1" height="3" fill="#262626"/><rect x="97" y="1" width="1" height="3.2" fill="#262626"/><rect x="102" y="148" width="1" height="3" fill="#262626"/><rect x="102" y="1" width="1" height="3.2" fill="#262626"/><rect x="107" y="148" width="1" height="3" fill="#262626"/><rect x="107" y="1" width="1" height="3.2" fill="#262626"/><rect x="113" y="145" width="1" height="6" fill="#262626"/><rect x="113" y="1" width="1" height="6" fill="#262626"/><rect x="118" y="148" width="1" height="3" fill="#262626"/><rect x="118" y="1" width="1" height="3.2" fill="#262626"/><rect x="124" y="148" width="1" height="3" fill="#262626"/><rect x="124" y="1" width="1" height="3.2" fill="#262626"/><rect x="129" y="148" width="1" height="3" fill="#262626"/><rect x="129" y="1" width="1" height="3.2" fill="#262626"/><rect x="134" y="148" width="1" height="3" fill="#262626"/><rect x="134" y="1" width="1" height="3.2" fill="#262626"/><rect x="140" y="145" width="1" height="6" fill="#262626"/><rect x="140" y="1" width="1" height="6" fill="#262626"/><rect x="145" y="148" width="1" height="3" fill="#262626"/><rect x="145" y="1" width="1" height="3.2" fill="#262626"/><rect x="150" y="148" width="1" height="3" fill="#262626"/><rect x="150" y="1" width="1" height="3.2" fill="#262626"/><rect x="156" y="148" width="1" height="3" fill="#262626"/><rect x="156" y="1" width="1" height="3.2" fill="#262626"/><rect x="161" y="148" width="1" height="3" fill="#262626"/><rect x="161" y="1" width="1" height="3.2" fill="#262626"/><rect x="166" y="145" width="1" height="6" fill="#262626"/><rect x="166" y="1" width="1" height="6" fill="#262626"/><rect x="172" y="148" width="1" height="3" fill="#262626"/><rect x="172" y="1" width="1" height="3.2" fill="#262626"/><rect x="177" y="148" width="1" height="3" fill="#262626"/><rect x="177" y="1" width="1" height="3.2" fill="#262626"/><rect x="182" y="148" width="1" height="3" fill="#262626"/><rect x="182" y="1" width="1" height="3.2" fill="#262626"/><rect x="188" y="148" width="1" height="3" fill="#262626"/><rect x="188" y="1" width="1" height="3.2" fill="#262626"/><rect x="193" y="145" width="1" height="6" fill="#262626"/><rect x="193" y="1" width="1" height="6" fill="#262626"/><rect x="198" y="148" width="1" height="3" fill="#262626"/><rect x="198" y="1" width="1" height="3.2" fill="#262626"/><rect x="204" y="148" width="1" height="3" fill="#262626"/><rect x="204" y="1" width="1" height="3.2" fill="#262626"/><rect x="209" y="148" width="1" height="3" fill="#262626"/><rect x="209" y="1" width="1" height="3.2" fill="#262626"/><rect x="214" y="148" width="1" height="3" fill="#262626"/><rect x="214" y="1" width="1" height="3.2" fill="#262626"/><rect x="220" y="145" width="1" height="6" fill="#262626"/><rect x="220" y="1" width="1" height="6" fill="#262626"/><rect x="225" y="148" width="1" height="3" fill="#262626"/><rect x="225" y="1" width="1" height="3.2" fill="#262626"/><rect x="230" y="148" width="1" height="3" fill="#262626"/><rect x="230" y="1" width="1" height="3.2" fill="#262626"/><rect x="236" y="148" width="1" height="3" fill="#262626"/><rect x="236" y="1" width="1" height="3.2" fill="#262626"/><rect x="241" y="148" width="1" height="3" fill="#262626"/><rect x="241" y="1" width="1" height="3.2" fill="#262626"/><rect x="247" y="145" width="1" height="6" fill="#262626"/><rect x="247" y="1" width="1" height="6" fill="#262626"/><rect x="252" y="148" width="1" height="3" fill="#262626"/><rect x="252" y="1" width="1" height="3.2" fill="#262626"/><rect x="257" y="148" width="1" height="3" fill="#262626"/><rect x="257" y="1" width="1" height="3.2" fill="#262626"/><rect x="263" y="148" width="1" height="3" fill="#262626"/><rect x="263" y="1" width="1" height="3.2" fill="#262626"/><rect x="268" y="148" width="1" height="3" fill="#262626"/><rect x="268" y="1" width="1" height="3.2" fill="#262626"/><rect x="273" y="145" width="1" height="6" fill="#262626"/><rect x="273" y="1" width="1" height="6" fill="#262626"/><rect x="279" y="148" width="1" height="3" fill="#262626"/><rect x="279" y="1" width="1" height="3.2" fill="#262626"/><rect x="284" y="148" width="1" height="3" fill="#262626"/><rect x="284" y="1" width="1" height="3.2" fill="#262626"/><rect x="289" y="148" width="1" height="3" fill="#262626"/><rect x="289" y="1" width="1" height="3.2" fill="#262626"/><rect x="295" y="148" width="1" height="3" fill="#262626"/><rect x="295" y="1" width="1" height="3.2" fill="#262626"/><rect x="47" y="304" width="3.5" height="1" fill="#262626"/><rect x="296.5" y="304" width="3.5" height="1" fill="#262626"/><rect x="47" y="300" width="3.5" height="1" fill="#262626"/><rect x="296.5" y="300" width="3.5" height="1" fill="#262626"/><rect x="47" y="296" width="3.5" height="1" fill="#262626"/><rect x="296.5" y="296" width="3.5" height="1" fill="#262626"/><rect x="47" y="291" width="3.5" height="1" fill="#262626"/><rect x="296.5" y="291" width="3.5" height="1" fill="#262626"/><rect x="47" y="287" width="3.5" height="1" fill="#262626"/><rect x="296.5" y="287" width="3.5" height="1" fill="#262626"/><rect x="47" y="283" width="6.5" height="1" fill="#262626"/><rect x="293.5" y="283" width="6.5" height="1" fill="#262626"/><rect x="47" y="279" width="3.5" height="1" fill="#262626"/><rect x="296.5" y="279" width="3.5" height="1" fill="#262626"/><rect x="47" y="275" width="3.5" height="1" fill="#262626"/><rect x="296.5" y="275" width="3.5" height="1" fill="#262626"/><rect x="47" y="271" width="3.5" height="1" fill="#262626"/><rect x="296.5" y="271" width="3.5" height="1" fill="#262626"/><rect x="47" y="267" width="3.5" height="1" fill="#262626"/><rect x="296.5" y="267" width="3.5" height="1" fill="#262626"/><rect x="47" y="263" width="3.5" height="1" fill="#262626"/><rect x="296.5" y="263" width="3.5" height="1" fill="#262626"/><rect x="47" y="259" width="6.5" height="1" fill="#262626"/><rect x="293.5" y="259" width="6.5" height="1" fill="#262626"/><rect x="47" y="255" width="3.5" height="1" fill="#262626"/><rect x="296.5" y="255" width="3.5" height="1" fill="#262626"/><rect x="47" y="251" width="3.5" height="1" fill="#262626"/><rect x="296.5" y="251" width="3.5" height="1" fill="#262626"/><rect x="47" y="247" width="3.5" height="1" fill="#262626"/><rect x="296.5" y="247" width="3.5" height="1" fill="#262626"/><rect x="47" y="242" width="3.5" height="1" fill="#262626"/><rect x="296.5" y="242" width="3.5" height="1" fill="#262626"/><rect x="47" y="238" width="3.5" height="1" fill="#262626"/><rect x="296.5" y="238" width="3.5" height="1" fill="#262626"/><rect x="47" y="234" width="6.5" height="1" fill="#262626"/><rect x="293.5" y="234" width="6.5" height="1" fill="#262626"/><rect x="47" y="230" width="3.5" height="1" fill="#262626"/><rect x="296.5" y="230" width="3.5" height="1" fill="#262626"/><rect x="47" y="226" width="3.5" height="1" fill="#262626"/><rect x="296.5" y="226" width="3.5" height="1" fill="#262626"/><rect x="47" y="222" width="3.5" height="1" fill="#262626"/><rect x="296.5" y="222" width="3.5" height="1" fill="#262626"/><rect x="47" y="218" width="3.5" height="1" fill="#262626"/><rect x="296.5" y="218" width="3.5" height="1" fill="#262626"/><rect x="47" y="214" width="3.5" height="1" fill="#262626"/><rect x="296.5" y="214" width="3.5" height="1" fill="#262626"/><rect x="47" y="210" width="6.5" height="1" fill="#262626"/><rect x="293.5" y="210" width="6.5" height="1" fill="#262626"/><rect x="47" y="206" width="3.5" height="1" fill="#262626"/><rect x="296.5" y="206" width="3.5" height="1" fill="#262626"/><rect x="47" y="202" width="3.5" height="1" fill="#262626"/><rect x="296.5" y="202" width="3.5" height="1" fill="#262626"/><rect x="47" y="197" width="3.5" height="1" fill="#262626"/><rect x="296.5" y="197" width="3.5" height="1" fill="#262626"/><rect x="47" y="193" width="3.5" height="1" fill="#262626"/><rect x="296.5" y="193" width="3.5" height="1" fill="#262626"/><rect x="47" y="189" width="3.5" height="1" fill="#262626"/><rect x="296.5" y="189" width="3.5" height="1" fill="#262626"/><rect x="47" y="185" width="6.5" height="1" fill="#262626"/><rect x="293.5" y="185" width="6.5" height="1" fill="#262626"/><rect x="47" y="181" width="3.5" height="1" fill="#262626"/><rect x="296.5" y="181" width="3.5" height="1" fill="#262626"/><rect x="47" y="177" width="3.5" height="1" fill="#262626"/><rect x="296.5" y="177" width="3.5" height="1" fill="#262626"/><rect x="47" y="173" width="3.5" height="1" fill="#262626"/><rect x="296.5" y="173" width="3.5" height="1" fill="#262626"/><rect x="47" y="169" width="3.5" height="1" fill="#262626"/><rect x="296.5" y="169" width="3.5" height="1" fill="#262626"/><rect x="47" y="165" width="3.5" height="1" fill="#262626"/><rect x="296.5" y="165" width="3.5" height="1" fill="#262626"/><rect x="47" y="161" width="6.5" height="1" fill="#262626"/><rect x="293.5" y="161" width="6.5" height="1" fill="#262626"/><rect x="47" y="157" width="3.5" height="1" fill="#262626"/><rect x="296.5" y="157" width="3.5" height="1" fill="#262626"/><rect x="49" y="303.2" width="1" height="3.8" fill="#262626"/><rect x="49" y="157" width="1" height="3.2" fill="#262626"/><rect x="54" y="303.2" width="1" height="3.8" fill="#262626"/><rect x="54" y="157" width="1" height="3.2" fill="#262626"/><rect x="59" y="300.4" width="1" height="6.6" fill="#262626"/><rect x="59" y="157" width="1" height="6.6" fill="#262626"/><rect x="65" y="303.2" width="1" height="3.8" fill="#262626"/><rect x="65" y="157" width="1" height="3.2" fill="#262626"/><rect x="70" y="303.2" width="1" height="3.8" fill="#262626"/><rect x="70" y="157" width="1" height="3.2" fill="#262626"/><rect x="75" y="303.2" width="1" height="3.8" fill="#262626"/><rect x="75" y="157" width="1" height="3.2" fill="#262626"/><rect x="81" y="303.2" width="1" height="3.8" fill="#262626"/><rect x="81" y="157" width="1" height="3.2" fill="#262626"/><rect x="86" y="300.4" width="1" height="6.6" fill="#262626"/><rect x="86" y="157" width="1" height="6.6" fill="#262626"/><rect x="91" y="303.2" width="1" height="3.8" fill="#262626"/><rect x="91" y="157" width="1" height="3.2" fill="#262626"/><rect x="97" y="303.2" width="1" height="3.8" fill="#262626"/><rect x="97" y="157" width="1" height="3.2" fill="#262626"/><rect x="102" y="303.2" width="1" height="3.8" fill="#262626"/><rect x="102" y="157" width="1" height="3.2" fill="#262626"/><rect x="107" y="303.2" width="1" height="3.8" fill="#262626"/><rect x="107" y="157" width="1" height="3.2" fill="#262626"/><rect x="113" y="300.4" width="1" height="6.6" fill="#262626"/><rect x="113" y="157" width="1" height="6.6" fill="#262626"/><rect x="118" y="303.2" width="1" height="3.8" fill="#262626"/><rect x="118" y="157" width="1" height="3.2" fill="#262626"/><rect x="124" y="303.2" width="1" height="3.8" fill="#262626"/><rect x="124" y="157" width="1" height="3.2" fill="#262626"/><rect x="129" y="303.2" width="1" height="3.8" fill="#262626"/><rect x="129" y="157" width="1" height="3.2" fill="#262626"/><rect x="134" y="303.2" width="1" height="3.8" fill="#262626"/><rect x="134" y="157" width="1" height="3.2" fill="#262626"/><rect x="140" y="300.4" width="1" height="6.6" fill="#262626"/><rect x="140" y="157" width="1" height="6.6" fill="#262626"/><rect x="145" y="303.2" width="1" height="3.8" fill="#262626"/><rect x="145" y="157" width="1" height="3.2" fill="#262626"/><rect x="150" y="303.2" width="1" height="3.8" fill="#262626"/><rect x="150" y="157" width="1" height="3.2" fill="#262626"/><rect x="156" y="303.2" width="1" height="3.8" fill="#262626"/><rect x="156" y="157" width="1" height="3.2" fill="#262626"/><rect x="161" y="303.2" width="1" height="3.8" fill="#262626"/><rect x="161" y="157" width="1" height="3.2" fill="#262626"/><rect x="166" y="300.4" width="1" height="6.6" fill="#262626"/><rect x="166" y="157" width="1" height="6.6" fill="#262626"/><rect x="172" y="303.2" width="1" height="3.8" fill="#262626"/><rect x="172" y="157" width="1" height="3.2" fill="#262626"/><rect x="177" y="303.2" width="1" height="3.8" fill="#262626"/><rect x="177" y="157" width="1" height="3.2" fill="#262626"/><rect x="182" y="303.2" width="1" height="3.8" fill="#262626"/><rect x="182" y="157" width="1" height="3.2" fill="#262626"/><rect x="188" y="303.2" width="1" height="3.8" fill="#262626"/><rect x="188" y="157" width="1" height="3.2" fill="#262626"/><rect x="193" y="300.4" width="1" height="6.6" fill="#262626"/><rect x="193" y="157" width="1" height="6.6" fill="#262626"/><rect x="198" y="303.2" width="1" height="3.8" fill="#262626"/><rect x="198" y="157" width="1" height="3.2" fill="#262626"/><rect x="204" y="303.2" width="1" height="3.8" fill="#262626"/><rect x="204" y="157" width="1" height="3.2" fill="#262626"/><rect x="209" y="303.2" width="1" height="3.8" fill="#262626"/><rect x="209" y="157" width="1" height="3.2" fill="#262626"/><rect x="214" y="303.2" width="1" height="3.8" fill="#262626"/><rect x="214" y="157" width="1" height="3.2" fill="#262626"/><rect x="220" y="300.4" width="1" height="6.6" fill="#262626"/><rect x="220" y="157" width="1" height="6.6" fill="#262626"/><rect x="225" y="303.2" width="1" height="3.8" fill="#262626"/><rect x="225" y="157" width="1" height="3.2" fill="#262626"/><rect x="230" y="303.2" width="1" height="3.8" fill="#262626"/><rect x="230" y="157" width="1" height="3.2" fill="#262626"/><rect x="236" y="303.2" width="1" height="3.8" fill="#262626"/><rect x="236" y="157" width="1" height="3.2" fill="#262626"/><rect x="241" y="303.2" width="1" height="3.8" fill="#262626"/><rect x="241" y="157" width="1" height="3.2" fill="#262626"/><rect x="247" y="300.4" width="1" height="6.6" fill="#262626"/><rect x="247" y="157" width="1" height="6.6" fill="#262626"/><rect x="252" y="303.2" width="1" height="3.8" fill="#262626"/><rect x="252" y="157" width="1" height="3.2" fill="#262626"/><rect x="257" y="303.2" width="1" height="3.8" fill="#262626"/><rect x="257" y="157" width="1" height="3.2" fill="#262626"/><rect x="263" y="303.2" width="1" height="3.8" fill="#262626"/><rect x="263" y="157" width="1" height="3.2" fill="#262626"/><rect x="268" y="303.2" width="1" height="3.8" fill="#262626"/><rect x="268" y="157" width="1" height="3.2" fill="#262626"/><rect x="273" y="300.4" width="1" height="6.6" fill="#262626"/><rect x="273" y="157" width="1" height="6.6" fill="#262626"/><rect x="279" y="303.2" width="1" height="3.8" fill="#262626"/><rect x="279" y="157" width="1" height="3.2" fill="#262626"/><rect x="284" y="303.2" width="1" height="3.8" fill="#262626"/><rect x="284" y="157" width="1" height="3.2" fill="#262626"/><rect x="289" y="303.2" width="1" height="3.8" fill="#262626"/><rect x="289" y="157" width="1" height="3.2" fill="#262626"/><rect x="295" y="303.2" width="1" height="3.8" fill="#262626"/><rect x="295" y="157" width="1" height="3.2" fill="#262626"/></g><rect x="302" y="0" width="1" height="152" fill="#262626"/><rect x="306" y="0" width="1" height="152" fill="#262626" fill-opacity="0.55"/><rect x="302" y="0" width="5" height="1" fill="#262626" fill-opacity="0.8"/><rect x="302" y="151" width="5" height="1" fill="#262626" fill-opacity="0.8"/><rect x="302" y="156" width="1" height="152" fill="#262626"/><rect x="306" y="156" width="1" height="152" fill="#262626" fill-opacity="0.55"/><rect x="302" y="156" width="5" height="1" fill="#262626" fill-opacity="0.8"/><rect x="302" y="307" width="5" height="1" fill="#262626" fill-opacity="0.8"/><rect x="305" y="21" width="1" height="1" fill="#262626" fill-opacity="0.7"/><rect x="305" y="58" width="1" height="1" fill="#262626" fill-opacity="0.7"/><rect x="305" y="94" width="1" height="1" fill="#262626" fill-opacity="0.7"/><rect x="305" y="130" width="1" height="1" fill="#262626" fill-opacity="0.7"/><rect x="305" y="172" width="1" height="1" fill="#262626" fill-opacity="0.7"/><rect x="305" y="211" width="1" height="1" fill="#262626" fill-opacity="0.7"/><rect x="305" y="251" width="1" height="1" fill="#262626" fill-opacity="0.7"/><rect x="305" y="291" width="1" height="1" fill="#262626" fill-opacity="0.7"/></svg><svg class="tx" width="342" height="344"><text x="41.70" y="9.70" font-size="12" text-anchor="end" font-family="Liberation Sans" font-weight="bold" stroke="#000" stroke-width="0.2">0.9</text><text x="41.70" y="34.20" font-size="12" text-anchor="end" font-family="Liberation Sans" font-weight="bold" stroke="#000" stroke-width="0.2">0.6</text><text x="41.70" y="58.70" font-size="12" text-anchor="end" font-family="Liberation Sans" font-weight="bold" stroke="#000" stroke-width="0.2">0.3</text><text x="41.70" y="83.20" font-size="12" text-anchor="end" font-family="Liberation Sans" font-weight="bold" stroke="#000" stroke-width="0.2">0</text><text x="41.70" y="107.70" font-size="12" text-anchor="end" font-family="Liberation Sans" font-weight="bold" stroke="#000" stroke-width="0.2">-0.3</text><text x="41.70" y="132.20" font-size="12" text-anchor="end" font-family="Liberation Sans" font-weight="bold" stroke="#000" stroke-width="0.2">-0.6</text><text x="41.70" y="156.70" font-size="12" text-anchor="end" font-family="Liberation Sans" font-weight="bold" stroke="#000" stroke-width="0.2">-0.9</text><text x="41.70" y="165.70" font-size="12" text-anchor="end" font-family="Liberation Sans" font-weight="bold" stroke="#000" stroke-width="0.2">0.9</text><text x="41.70" y="190.20" font-size="12" text-anchor="end" font-family="Liberation Sans" font-weight="bold" stroke="#000" stroke-width="0.2">0.6</text><text x="41.70" y="214.70" font-size="12" text-anchor="end" font-family="Liberation Sans" font-weight="bold" stroke="#000" stroke-width="0.2">0.3</text><text x="41.70" y="239.20" font-size="12" text-anchor="end" font-family="Liberation Sans" font-weight="bold" stroke="#000" stroke-width="0.2">0</text><text x="41.70" y="263.70" font-size="12" text-anchor="end" font-family="Liberation Sans" font-weight="bold" stroke="#000" stroke-width="0.2">-0.3</text><text x="41.70" y="288.20" font-size="12" text-anchor="end" font-family="Liberation Sans" font-weight="bold" stroke="#000" stroke-width="0.2">-0.6</text><text x="41.70" y="312.70" font-size="12" text-anchor="end" font-family="Liberation Sans" font-weight="bold" stroke="#000" stroke-width="0.2">-0.9</text><text x="59.10" y="323.90" font-size="12" text-anchor="middle" font-family="Liberation Sans" font-weight="bold" stroke="#000" stroke-width="0.2">0.1</text><text x="86.10" y="323.90" font-size="12" text-anchor="middle" font-family="Liberation Sans" font-weight="bold" stroke="#000" stroke-width="0.2">0.2</text><text x="113.10" y="323.90" font-size="12" text-anchor="middle" font-family="Liberation Sans" font-weight="bold" stroke="#000" stroke-width="0.2">0.3</text><text x="140.10" y="323.90" font-size="12" text-anchor="middle" font-family="Liberation Sans" font-weight="bold" stroke="#000" stroke-width="0.2">0.4</text><text x="166.10" y="323.90" font-size="12" text-anchor="middle" font-family="Liberation Sans" font-weight="bold" stroke="#000" stroke-width="0.2">0.5</text><text x="193.10" y="323.90" font-size="12" text-anchor="middle" font-family="Liberation Sans" font-weight="bold" stroke="#000" stroke-width="0.2">0.6</text><text x="220.10" y="323.90" font-size="12" text-anchor="middle" font-family="Liberation Sans" font-weight="bold" stroke="#000" stroke-width="0.2">0.7</text><text x="247.10" y="323.90" font-size="12" text-anchor="middle" font-family="Liberation Sans" font-weight="bold" stroke="#000" stroke-width="0.2">0.8</text><text x="273.10" y="323.90" font-size="12" text-anchor="middle" font-family="Liberation Sans" font-weight="bold" stroke="#000" stroke-width="0.2">0.9</text><text x="300.10" y="323.90" font-size="12" text-anchor="middle" font-family="Liberation Sans" font-weight="bold" stroke="#000" stroke-width="0.2">1</text><text x="310.60" y="26.10" font-size="11.5" text-anchor="start" font-family="Liberation Sans" font-weight="bold" stroke="#000" stroke-width="0.2">2.5</text><text x="310.60" y="62.60" font-size="11.5" text-anchor="start" font-family="Liberation Sans" font-weight="bold" stroke="#000" stroke-width="0.2">2</text><text x="310.60" y="98.70" font-size="11.5" text-anchor="start" font-family="Liberation Sans" font-weight="bold" stroke="#000" stroke-width="0.2">1.5</text><text x="310.60" y="134.90" font-size="11.5" text-anchor="start" font-family="Liberation Sans" font-weight="bold" stroke="#000" stroke-width="0.2">1</text><text x="310.60" y="176.90" font-size="11.5" text-anchor="start" font-family="Liberation Sans" font-weight="bold" stroke="#000" stroke-width="0.2">3.5</text><text x="310.60" y="216.60" font-size="11.5" text-anchor="start" font-family="Liberation Sans" font-weight="bold" stroke="#000" stroke-width="0.2">3</text><text x="310.60" y="256.30" font-size="11.5" text-anchor="start" font-family="Liberation Sans" font-weight="bold" stroke="#000" stroke-width="0.2">2.5</text><text x="310.60" y="296.00" font-size="11.5" text-anchor="start" font-family="Liberation Sans" font-weight="bold" stroke="#000" stroke-width="0.2">2</text><text transform="translate(9.80 98.35) rotate(-90)" font-family="Liberation Sans" font-weight="bold" stroke="#000" stroke-width="0.15" font-size="13.3">I</text><text transform="translate(15.60 93.60) rotate(-90)" font-family="Liberation Sans" font-weight="bold" stroke="#000" stroke-width="0.15" font-size="10">CD</text><text transform="translate(9.90 74.25) rotate(-90)" font-family="Liberation Sans" font-weight="bold" stroke="#000" stroke-width="0.15" font-size="13.5">(%)</text><text transform="translate(9.80 254.35) rotate(-90)" font-family="Liberation Sans" font-weight="bold" stroke="#000" stroke-width="0.15" font-size="13.3">I</text><text transform="translate(15.60 249.60) rotate(-90)" font-family="Liberation Sans" font-weight="bold" stroke="#000" stroke-width="0.15" font-size="10">CD</text><text transform="translate(9.90 230.25) rotate(-90)" font-family="Liberation Sans" font-weight="bold" stroke="#000" stroke-width="0.15" font-size="13.5">(%)</text><text transform="translate(337.10 131.30) rotate(-90)" font-family="Liberation Sans" font-weight="bold" stroke="#000" stroke-width="0.15" font-size="12.2">Island width (<tspan font-family="Liberation Serif" font-style="italic">&#968;</tspan><tspan font-size="10" dy="3.2">N</tspan><tspan dy="-3.2" font-size="13.2">&#8201;%)</tspan></text><text transform="translate(339.40 301.40) rotate(-90)" font-family="Liberation Sans" font-weight="bold" stroke="#000" stroke-width="0.15" font-size="12.1">Pedestal pressure (kPa)</text><text y="340.5" font-size="14" font-family="Liberation Sans" font-weight="bold"><tspan x="153.2">&#916;</tspan><tspan x="175.8">(</tspan><tspan x="179.9" font-family="Liberation Serif">&#960;</tspan><tspan x="189.6">)</tspan></text><text transform="translate(164.6 340.5) skewX(-16)" font-size="14" font-family="Liberation Serif" font-weight="bold">&#958;</text><text x="52" y="18.4" font-size="14.5" fill="#fff" font-family="Liberation Sans" font-weight="bold">(a)</text><text x="52" y="174.4" font-size="14.5" fill="#000" font-family="Liberation Sans" font-weight="bold">(b)</text></svg></body></html>
